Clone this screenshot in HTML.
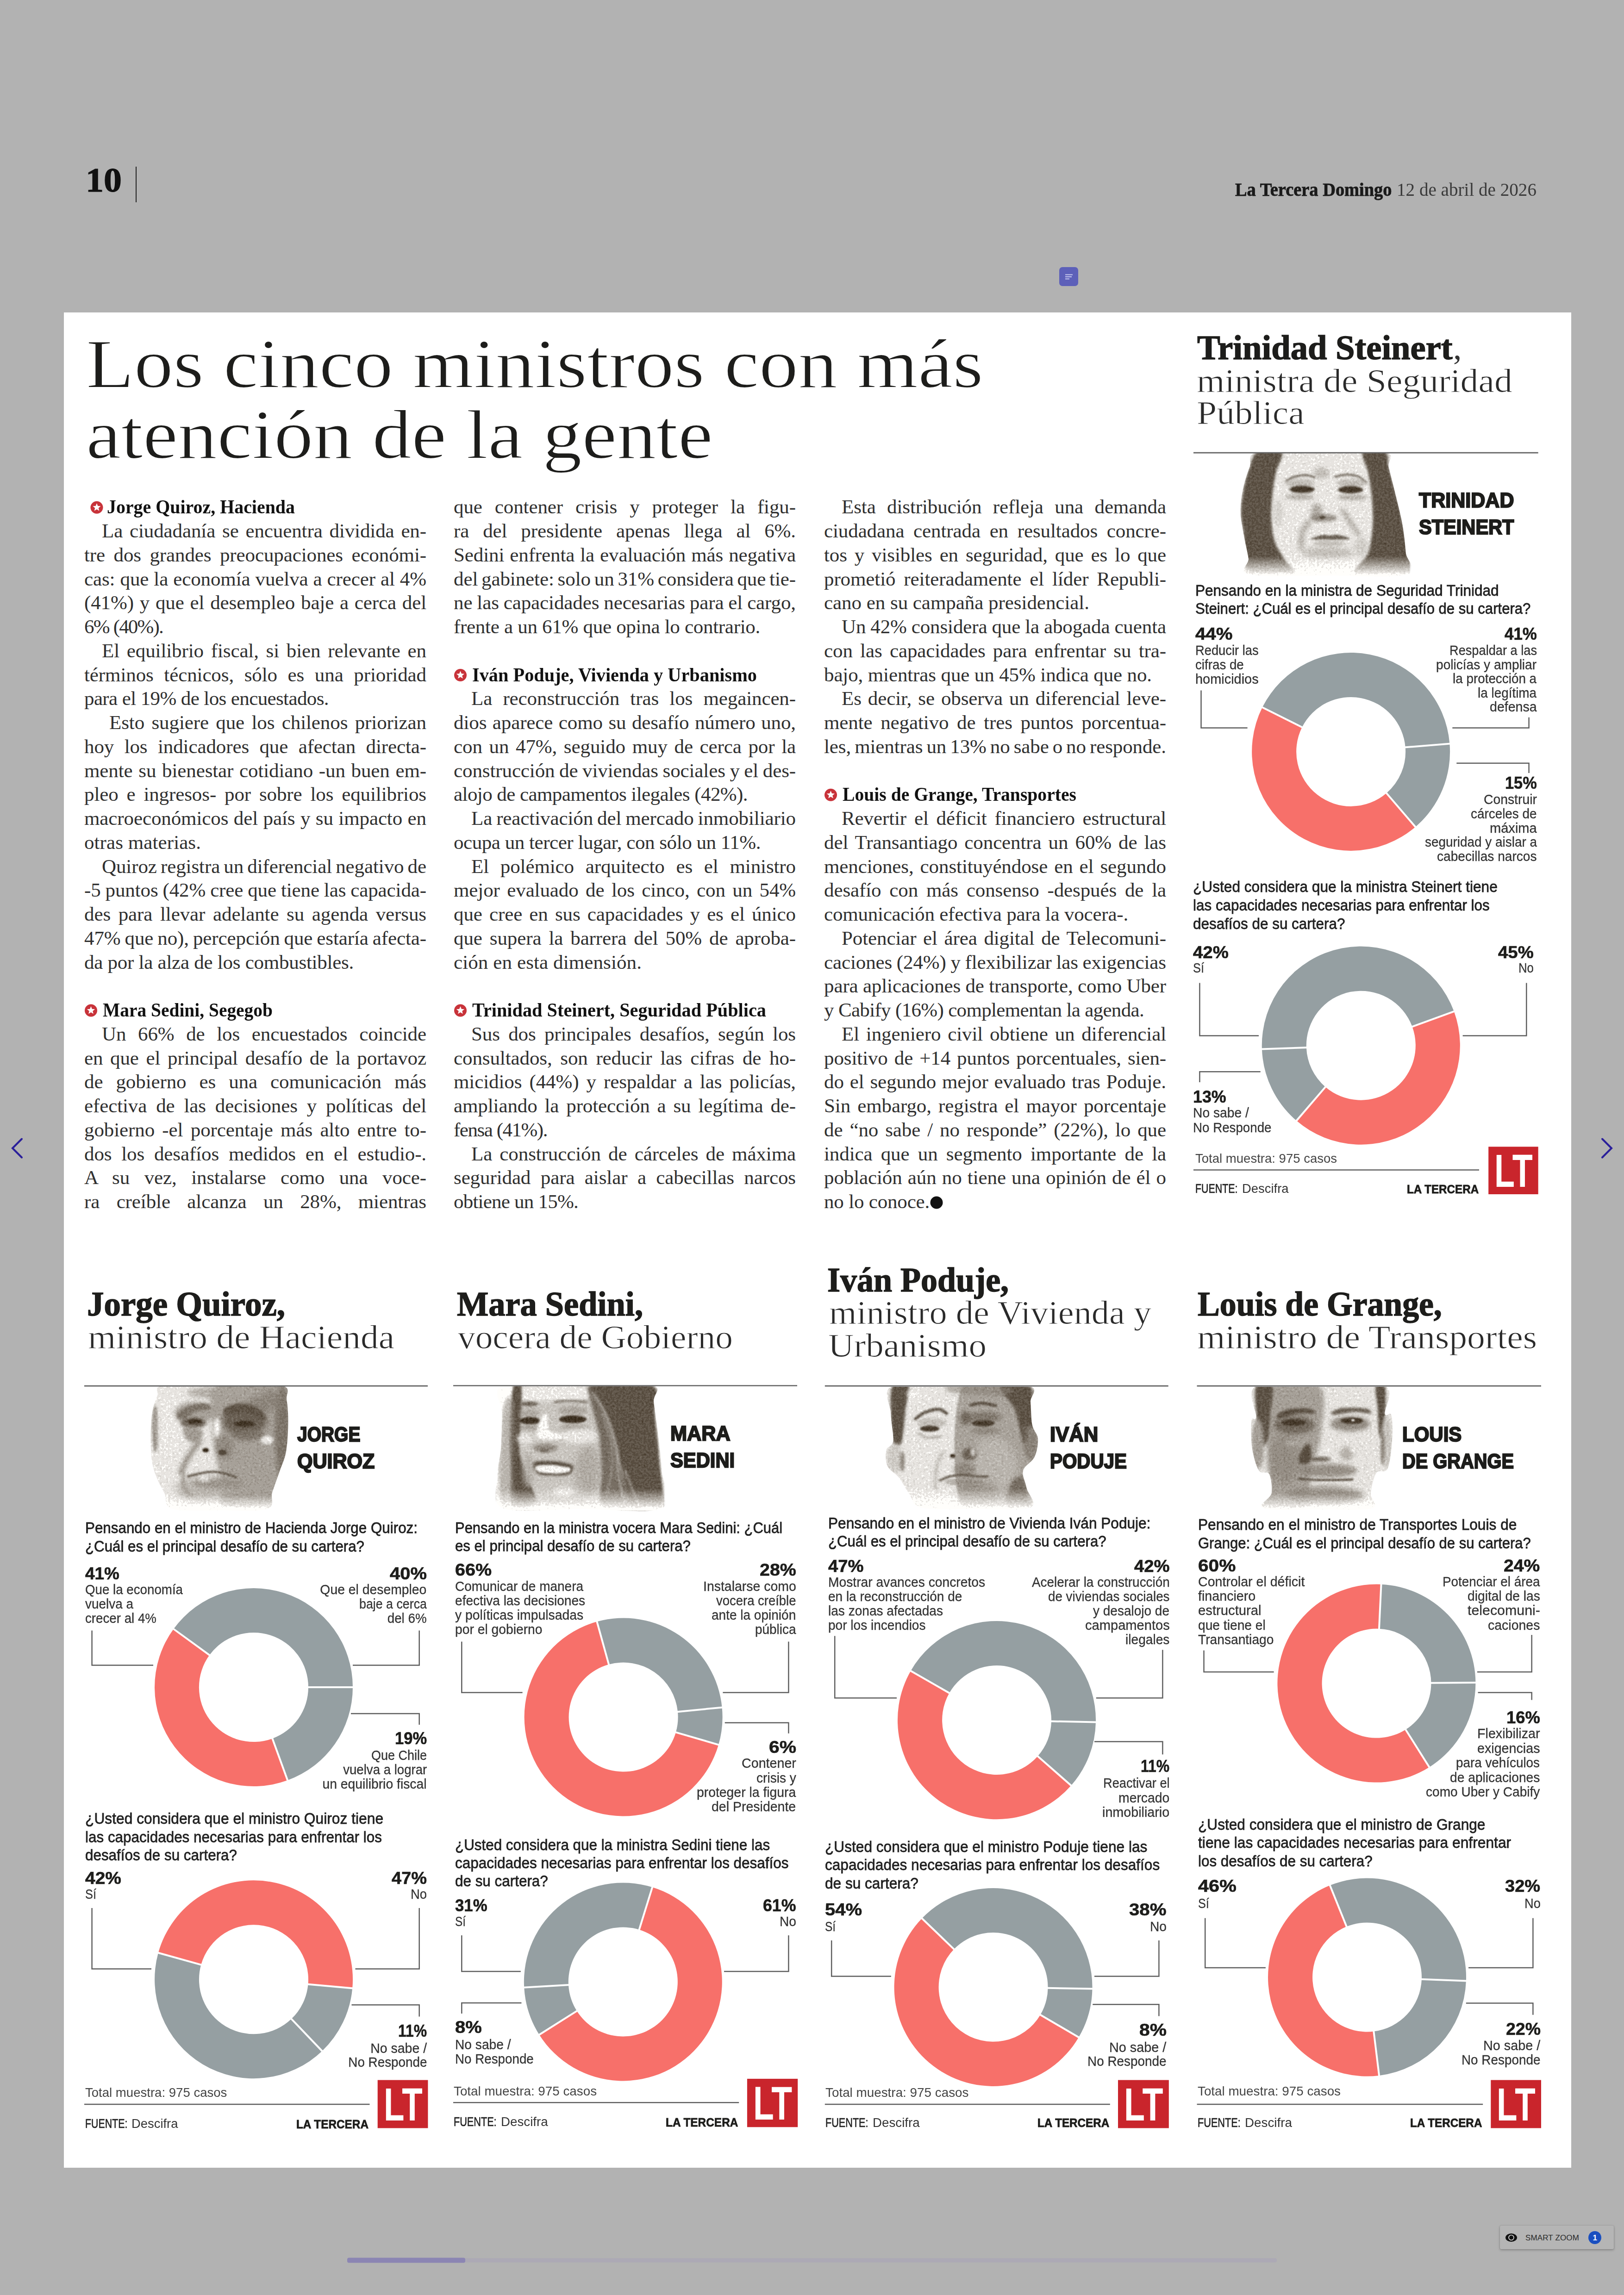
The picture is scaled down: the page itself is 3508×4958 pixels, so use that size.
<!DOCTYPE html>
<html lang="es"><head><meta charset="utf-8"><title>Los cinco ministros con más atención de la gente</title>
<style>
html,body{margin:0;padding:0;}
body{width:3508px;height:4958px;background:#b2b2b2;position:relative;overflow:hidden;}
.t{position:absolute;white-space:pre;font-kerning:normal;}
svg{position:absolute;overflow:visible;}
</style></head><body>
<div style="position:absolute;left:138px;top:675px;width:3256px;height:4008px;background:#ffffff;"></div>
<div style="position:absolute;left:292.8px;top:359.5px;width:2.6px;height:77.5px;background:#222;"></div>
<div style="position:absolute;left:3240px;top:4808px;width:246px;height:51px;background:#b5b5b5;border-radius:3px;box-shadow:0 2px 5px rgba(0,0,0,0.25),0 0 2px rgba(0,0,0,0.2);"></div>
<svg style="left:0;top:0" width="3508" height="4958" viewBox="0 0 3508 4958">
<defs><filter id="b1" x="-50%" y="-50%" width="200%" height="200%"><feGaussianBlur stdDeviation="1"/></filter><filter id="b1_5" x="-50%" y="-50%" width="200%" height="200%"><feGaussianBlur stdDeviation="1.5"/></filter><filter id="b2" x="-50%" y="-50%" width="200%" height="200%"><feGaussianBlur stdDeviation="2"/></filter><filter id="b3" x="-50%" y="-50%" width="200%" height="200%"><feGaussianBlur stdDeviation="3"/></filter><filter id="b4" x="-50%" y="-50%" width="200%" height="200%"><feGaussianBlur stdDeviation="4"/></filter><filter id="b5" x="-50%" y="-50%" width="200%" height="200%"><feGaussianBlur stdDeviation="5"/></filter><filter id="b6" x="-50%" y="-50%" width="200%" height="200%"><feGaussianBlur stdDeviation="6"/></filter><filter id="b8" x="-50%" y="-50%" width="200%" height="200%"><feGaussianBlur stdDeviation="8"/></filter><filter id="b12" x="-50%" y="-50%" width="200%" height="200%"><feGaussianBlur stdDeviation="12"/></filter><filter id="soft" x="-5%" y="-5%" width="110%" height="110%" color-interpolation-filters="sRGB"><feGaussianBlur stdDeviation="1.5" result="b"/><feColorMatrix in="b" type="matrix" values="1 0 0 0 0  1 0 0 0 0  1 0 0 0 0  0 0 0 1 0" result="gr"/><feTurbulence type="fractalNoise" baseFrequency="0.22" numOctaves="3" seed="11" result="n"/><feColorMatrix in="n" type="matrix" values="0.6 0.6 0.6 0 -0.4  0.6 0.6 0.6 0 -0.4  0.6 0.6 0.6 0 -0.4  0 0 0 0 1" result="g"/><feComposite in="gr" in2="g" operator="arithmetic" k1="0" k2="1" k3="0.2" k4="-0.1" result="m"/><feComponentTransfer in="m" result="p"><feFuncR type="discrete" tableValues="0.031 0.094 0.156 0.219 0.281 0.344 0.406 0.469 0.531 0.594 0.656 0.719 0.781 0.844 0.906 1"/><feFuncG type="discrete" tableValues="0.031 0.094 0.156 0.219 0.281 0.344 0.406 0.469 0.531 0.594 0.656 0.719 0.781 0.844 0.906 1"/><feFuncB type="discrete" tableValues="0.031 0.094 0.156 0.219 0.281 0.344 0.406 0.469 0.531 0.594 0.656 0.719 0.781 0.844 0.906 1"/></feComponentTransfer><feColorMatrix in="p" type="matrix" values="1 0 0 0 0  1.0556 0 0 0 -0.0606  1.12 0 0 0 -0.1345  0 0 0 1 0" result="t"/><feComposite in="t" in2="b" operator="in"/></filter></defs><defs><clipPath id="p1c"><path d="M352.1,2993.3 C329.2,2997.2 343.8,3005.9 339.9,3015.5 C336.0,3025.1 331.2,3036.2 328.8,3050.9 C326.4,3065.7 325.6,3086.4 325.5,3104.1 C325.4,3121.9 326.2,3142.6 328.4,3157.3 C330.6,3172.1 334.3,3181.4 338.8,3192.8 C343.3,3204.3 349.7,3214.9 355.4,3226.1 C361.1,3237.2 352.8,3253.7 373.2,3259.8 C393.5,3265.8 443.3,3262.6 477.3,3262.6 C511.3,3262.6 558.6,3266.2 577.1,3259.8 C595.6,3253.3 583.7,3237.2 588.2,3223.8 C592.6,3210.5 598.7,3194.3 603.7,3179.5 C608.7,3164.7 615.0,3152.9 618.1,3135.2 C621.2,3117.4 622.4,3091.6 622.5,3073.1 C622.7,3054.6 621.6,3037.6 619.2,3024.3 C616.8,3011.0 631.8,2998.7 608.1,2993.3 C584.5,2987.9 520.0,2992.2 477.3,2992.2 C434.7,2992.2 375.0,2989.4 352.1,2993.3Z"/></clipPath><linearGradient id="p1g" gradientUnits="userSpaceOnUse" x1="325" y1="0" x2="623" y2="0"><stop offset="0" stop-color="#e9e6e2"/><stop offset="0.45" stop-color="#e6e3df"/><stop offset="1" stop-color="#c9c4be"/></linearGradient><linearGradient id="p1f" gradientUnits="userSpaceOnUse" x1="0" y1="3230" x2="0" y2="3260"><stop offset="0" stop-color="#fff" stop-opacity="0"/><stop offset="1" stop-color="#fff" stop-opacity="1"/></linearGradient></defs>
<g clip-path="url(#p1c)" filter="url(#soft)">
<rect x="320" y="2987" width="307" height="280" fill="url(#p1g)"/>
<path d="M468.5,2993.3 C495.8,2977.0 597.8,2948.6 623.6,2993.3 C649.5,3038.0 645.8,3216.8 623.6,3261.5 C601.5,3306.2 515.8,3275.2 490.6,3261.5 C465.5,3247.9 478.1,3208.0 472.9,3179.5 C467.7,3151.1 460.3,3121.9 459.6,3090.8 C458.9,3059.8 441.1,3009.6 468.5,2993.3Z" fill="#a39c95" opacity="0.95" filter="url(#b5)"/>
<ellipse cx="437.4" cy="3215.0" rx="57.6" ry="28.8" fill="#b5afa8" opacity="0.85" filter="url(#b8)"/>
<ellipse cx="610.3" cy="3095.3" rx="16.6" ry="102.0" fill="#7a736c" opacity="0.9" filter="url(#b4)"/>
<ellipse cx="577.1" cy="3026.6" rx="42.1" ry="22.2" fill="#857e77" opacity="0.7" filter="url(#b6)"/>
<ellipse cx="488.4" cy="3008.8" rx="84.2" ry="13.3" fill="#a8a29b" opacity="0.8" filter="url(#b4)"/>
<ellipse cx="335.5" cy="3086.4" rx="7.1" ry="51.0" fill="#8f8983" opacity="0.9" filter="url(#b2)"/>
<ellipse cx="366.5" cy="3079.8" rx="24.4" ry="66.5" fill="#ebe8e4" opacity="0.9" filter="url(#b8)"/>
<ellipse cx="419.7" cy="3053.2" rx="42.1" ry="24.4" fill="#a39c95" opacity="0.95" filter="url(#b5)"/>
<path d="M382.0,3055.4 C384.2,3050.6 396.1,3042.1 406.4,3038.1 C416.7,3034.1 436.0,3030.4 444.1,3031.4 C452.2,3032.5 458.5,3041.3 455.2,3044.3 C451.8,3047.2 434.5,3045.5 424.1,3049.2 C413.8,3052.9 400.1,3065.4 393.1,3066.5 C386.1,3067.5 379.8,3060.1 382.0,3055.4Z" fill="#7d766f" opacity="1" filter="url(#b2)"/>
<ellipse cx="417.5" cy="3074.2" rx="27.7" ry="11.5" fill="#6a635c" opacity="0.95" filter="url(#b3)"/>
<ellipse cx="420.8" cy="3070.9" rx="16.6" ry="5.3" fill="#3f3934" opacity="1" filter="url(#b1)"/>
<path d="M397.5,3084.2 C403.1,3080.9 432.6,3085.7 437.4,3090.8 C442.2,3096.0 431.9,3111.9 426.4,3115.2 C420.8,3118.5 409.0,3116.0 404.2,3110.8 C399.4,3105.6 392.0,3087.5 397.5,3084.2Z" fill="#9d968f" opacity="0.95" filter="url(#b3)"/>
<ellipse cx="528.3" cy="3068.7" rx="47.7" ry="33.3" fill="#6a635c" opacity="0.97" filter="url(#b6)"/>
<path d="M486.2,3042.1 C491.7,3038.0 509.5,3031.7 521.7,3032.1 C533.9,3032.5 550.9,3038.6 559.4,3044.3 C567.9,3050.0 577.1,3065.0 572.7,3066.5 C568.2,3067.9 546.8,3054.8 532.8,3053.2 C518.7,3051.5 496.2,3058.3 488.4,3056.5 C480.7,3054.6 480.7,3046.1 486.2,3042.1Z" fill="#5e5750" opacity="1" filter="url(#b2)"/>
<ellipse cx="528.3" cy="3075.8" rx="22.2" ry="6.7" fill="#3f3934" opacity="1" filter="url(#b1)"/>
<ellipse cx="535.0" cy="3099.7" rx="35.5" ry="12.2" fill="#7a736c" opacity="0.85" filter="url(#b4)"/>
<ellipse cx="577.1" cy="3110.8" rx="13.7" ry="9.3" fill="#e9e6e2" opacity="1" filter="url(#b2)"/>
<ellipse cx="468.5" cy="3084.2" rx="7.1" ry="21.1" fill="#f4f2ef" opacity="1" filter="url(#b3)"/>
<ellipse cx="485.1" cy="3126.3" rx="18.8" ry="25.5" fill="#8f8881" opacity="0.92" filter="url(#b4)"/>
<ellipse cx="444.1" cy="3133.0" rx="7.1" ry="4.7" fill="#2f2a26" opacity="1" filter="url(#b1)"/>
<ellipse cx="480.7" cy="3137.8" rx="9.3" ry="5.8" fill="#4f4943" opacity="1" filter="url(#b1)"/>
<path d="M430.8,3113.0 C426.7,3118.9 413.1,3137.4 406.4,3148.5 C399.8,3159.6 393.5,3174.3 390.9,3179.5" fill="none" stroke="#948d86" stroke-width="12.2" stroke-linecap="round" opacity="0.9" filter="url(#b4)"/>
<path d="M406.4,3189.5 C410.8,3188.4 424.1,3184.5 433.0,3182.8 C441.9,3181.2 450.4,3179.3 459.6,3179.5 C468.8,3179.7 479.9,3181.9 488.4,3183.9 C496.9,3186.0 506.9,3190.4 510.6,3191.7" fill="none" stroke="#5e5750" stroke-width="4.4" stroke-linecap="round" opacity="1" filter="url(#b1)"/>
<ellipse cx="470.7" cy="3205.0" rx="53.2" ry="11.1" fill="#97908a" opacity="0.85" filter="url(#b4)"/>
<path d="M395.3,3179.5 C395.7,3185.0 395.0,3204.3 397.5,3212.8 C400.1,3221.3 408.6,3227.5 410.8,3230.5" fill="none" stroke="#9d968f" stroke-width="7.5" stroke-linecap="round" opacity="0.85" filter="url(#b3)"/>
<ellipse cx="441.9" cy="3193.9" rx="12.2" ry="7.1" fill="#e4e1dc" opacity="0.95" filter="url(#b3)"/>
<rect x="320" y="3230" width="307" height="38" fill="url(#p1f)"/>
</g>
<rect x="313" y="2972.7" width="321" height="22" fill="#fff"/><defs><clipPath id="p2c"><path d="M1087.1,2992.8 C1058.4,3003.1 1085.5,3031.4 1084.6,3053.9 C1083.8,3076.4 1083.8,3105.2 1082.2,3127.8 C1080.5,3150.4 1074.0,3167.6 1074.8,3189.4 C1075.6,3211.1 1056.7,3246.6 1087.1,3258.3 C1117.5,3270.0 1200.0,3259.6 1257.0,3259.6 C1314.1,3259.6 1400.7,3272.1 1429.5,3258.3 C1458.2,3244.6 1430.7,3202.9 1429.5,3177.0 C1428.2,3151.2 1424.9,3127.8 1422.1,3103.2 C1419.2,3078.5 1414.5,3047.7 1412.2,3029.3 C1410.0,3010.9 1434.4,2999.0 1408.5,2992.8 C1382.7,2986.7 1310.6,2992.3 1257.0,2992.3 C1203.5,2992.3 1115.8,2982.5 1087.1,2992.8Z"/></clipPath><linearGradient id="p2f" gradientUnits="userSpaceOnUse" x1="0" y1="3216" x2="0" y2="3260"><stop offset="0" stop-color="#fff" stop-opacity="0"/><stop offset="1" stop-color="#fff" stop-opacity="1"/></linearGradient></defs>
<g clip-path="url(#p2c)" filter="url(#soft)">
<rect x="1070" y="2987" width="365" height="277" fill="#ffffff"/>
<path d="M1122.8,2993.5 C1148.7,2975.3 1241.2,2979.4 1271.8,2993.5 C1302.4,3007.7 1299.7,3047.9 1306.3,3078.5 C1312.9,3109.1 1315.3,3147.1 1311.2,3177.0 C1307.1,3207.0 1307.1,3244.8 1281.7,3258.3 C1256.2,3271.9 1184.0,3271.9 1158.5,3258.3 C1133.1,3244.8 1135.9,3202.9 1129.0,3177.0 C1122.0,3151.2 1117.7,3133.7 1116.7,3103.2 C1115.6,3072.6 1096.9,3011.8 1122.8,2993.5Z" fill="#cac4be" opacity="1" filter="url(#b2)"/>
<path d="M1126.5,2994.8 C1149.9,2989.9 1243.1,2990.3 1266.9,2994.8 C1290.7,2999.3 1280.9,3016.5 1269.4,3021.9 C1257.9,3027.2 1221.7,3026.4 1197.9,3026.8 C1174.1,3027.2 1138.4,3029.7 1126.5,3024.3 C1114.6,3019.0 1103.1,2999.7 1126.5,2994.8Z" fill="#ebe7e3" opacity="1" filter="url(#b3)"/>
<path d="M1276.7,2992.8 C1294.6,2984.7 1385.5,2982.6 1408.5,2992.8 C1431.5,3003.0 1412.0,3027.3 1414.7,3053.9 C1417.3,3080.5 1422.1,3118.1 1424.5,3152.4 C1427.0,3186.7 1438.9,3241.7 1429.5,3259.6 C1420.0,3277.4 1382.2,3273.3 1367.9,3259.6 C1353.5,3245.8 1350.2,3203.1 1343.3,3177.0 C1336.3,3151.0 1333.0,3125.7 1326.0,3103.2 C1319.0,3080.6 1309.6,3060.0 1301.4,3041.6 C1293.2,3023.2 1258.9,3000.9 1276.7,2992.8Z" fill="#5e5448" opacity="1" filter="url(#b2)"/>
<path d="M1269.4,2994.8 C1272.2,2991.9 1287.0,3007.1 1296.5,3024.3 C1305.9,3041.6 1318.2,3072.8 1326.0,3098.2 C1333.8,3123.7 1336.3,3150.4 1343.3,3177.0 C1350.2,3203.7 1374.9,3244.8 1367.9,3258.3 C1360.9,3271.9 1312.9,3271.9 1301.4,3258.3 C1289.9,3244.8 1300.1,3202.9 1298.9,3177.0 C1297.7,3151.2 1297.3,3125.7 1294.0,3103.2 C1290.7,3080.6 1283.3,3059.6 1279.2,3041.6 C1275.1,3023.5 1266.5,2997.7 1269.4,2994.8Z" fill="#71675d" opacity="0.95" filter="url(#b3)"/>
<path d="M1281.7,3009.6 C1286.6,3018.2 1303.0,3041.6 1311.2,3061.3 C1319.4,3081.0 1326.8,3106.4 1330.9,3127.8 C1335.0,3149.1 1332.6,3169.7 1335.9,3189.4 C1339.1,3209.1 1348.2,3236.6 1350.6,3246.0" fill="none" stroke="#b5ada5" stroke-width="4.4" stroke-linecap="round" opacity="0.8" filter="url(#b2)"/>
<path d="M1301.4,3053.9 C1304.7,3064.6 1317.8,3097.4 1321.1,3117.9 C1324.4,3138.5 1322.7,3159.0 1321.1,3177.0 C1319.4,3195.1 1312.9,3218.1 1311.2,3226.3" fill="none" stroke="#a89f96" stroke-width="3.9" stroke-linecap="round" opacity="0.7" filter="url(#b2)"/>
<path d="M1350.6,3177.0 C1353.1,3183.6 1360.5,3204.1 1365.4,3216.5 C1370.3,3228.8 1377.7,3245.2 1380.2,3250.9" fill="none" stroke="#c4bdb5" stroke-width="3.9" stroke-linecap="round" opacity="0.7" filter="url(#b2)"/>
<path d="M1109.3,2992.8 C1113.5,2978.5 1123.5,2978.5 1126.0,2992.8 C1128.6,3007.1 1125.1,3054.0 1124.5,3078.5 C1124.0,3103.1 1119.6,3119.6 1122.8,3140.1 C1126.0,3160.6 1137.8,3183.6 1143.7,3201.7 C1149.7,3219.7 1164.7,3239.9 1158.5,3248.5 C1152.4,3257.1 1116.2,3265.3 1106.8,3253.4 C1097.4,3241.5 1102.9,3206.2 1101.9,3177.0 C1100.8,3147.9 1099.4,3109.2 1100.6,3078.5 C1101.9,3047.8 1105.0,3007.1 1109.3,2992.8Z" fill="#5e5448" opacity="1" filter="url(#b2)"/>
<path d="M1087.1,3041.6 C1092.0,3016.9 1103.7,3006.7 1106.8,3029.3 C1109.9,3051.8 1105.2,3140.1 1105.6,3177.0 C1106.0,3214.0 1113.2,3238.6 1109.3,3250.9 C1105.4,3263.3 1087.5,3263.3 1082.2,3250.9 C1076.8,3238.6 1076.4,3211.9 1077.2,3177.0 C1078.1,3142.2 1082.2,3066.2 1087.1,3041.6Z" fill="#a49c94" opacity="0.75" filter="url(#b4)"/>
<ellipse cx="1143.7" cy="3033.0" rx="18.5" ry="4.9" fill="#6a625a" opacity="1" filter="url(#b2)"/>
<ellipse cx="1143.7" cy="3053.9" rx="22.2" ry="8.6" fill="#a59e97" opacity="0.8" filter="url(#b3)"/>
<ellipse cx="1145.0" cy="3069.2" rx="22.2" ry="7.9" fill="#3f3934" opacity="1" filter="url(#b1)"/>
<ellipse cx="1143.7" cy="3083.4" rx="19.7" ry="6.2" fill="#9d968e" opacity="0.8" filter="url(#b3)"/>
<path d="M1197.9,3029.3 C1203.7,3028.6 1220.9,3025.6 1232.4,3025.6 C1243.9,3025.6 1261.1,3028.6 1266.9,3029.3" fill="none" stroke="#7b746c" stroke-width="5.4" stroke-linecap="round" opacity="1" filter="url(#b2)"/>
<ellipse cx="1237.3" cy="3047.7" rx="32.0" ry="9.9" fill="#a59e97" opacity="0.8" filter="url(#b3)"/>
<ellipse cx="1237.3" cy="3066.2" rx="29.6" ry="8.4" fill="#3f3934" opacity="1" filter="url(#b1)"/>
<ellipse cx="1239.8" cy="3083.4" rx="29.6" ry="6.2" fill="#a39c95" opacity="0.8" filter="url(#b3)"/>
<path d="M1170.8,3058.8 C1174.9,3052.2 1180.3,3053.5 1183.2,3058.8 C1186.0,3064.2 1179.9,3083.9 1188.1,3090.8 C1196.3,3097.8 1230.8,3097.4 1232.4,3100.7 C1234.1,3104.0 1209.4,3109.3 1197.9,3110.5 C1186.4,3111.8 1170.0,3110.1 1163.4,3108.1 C1156.9,3106.0 1157.3,3106.4 1158.5,3098.2 C1159.8,3090.0 1166.7,3065.4 1170.8,3058.8Z" fill="#f3f1ee" opacity="1" filter="url(#b2)"/>
<ellipse cx="1252.1" cy="3103.2" rx="39.4" ry="16.0" fill="#e8e5e1" opacity="1" filter="url(#b4)"/>
<ellipse cx="1133.9" cy="3108.1" rx="17.2" ry="12.3" fill="#e6e3df" opacity="1" filter="url(#b4)"/>
<ellipse cx="1178.2" cy="3127.8" rx="27.1" ry="8.6" fill="#8b847d" opacity="0.9" filter="url(#b3)"/>
<ellipse cx="1175.8" cy="3133.9" rx="11.1" ry="3.7" fill="#6e6760" opacity="1" filter="url(#b2)"/>
<path d="M1149.9,3161.0 C1152.4,3156.3 1167.8,3156.5 1178.2,3156.1 C1188.7,3155.7 1202.7,3156.7 1212.7,3158.6 C1222.8,3160.4 1235.7,3162.9 1238.6,3167.2 C1241.4,3171.5 1236.7,3180.7 1230.0,3184.4 C1223.2,3188.1 1209.0,3189.4 1197.9,3189.4 C1186.8,3189.4 1171.5,3189.2 1163.4,3184.4 C1155.4,3179.7 1147.4,3165.8 1149.9,3161.0Z" fill="#5b544d" opacity="1" filter="url(#b2)"/>
<path d="M1158.5,3167.2 C1163.4,3164.7 1183.2,3164.5 1193.0,3164.7 C1202.9,3164.9 1211.3,3167.4 1217.6,3168.4 C1224.0,3169.4 1229.5,3169.0 1231.2,3170.9 C1232.8,3172.8 1233.0,3177.9 1227.5,3180.0 C1221.9,3182.1 1208.6,3183.3 1197.9,3183.2 C1187.3,3183.1 1170.0,3182.2 1163.4,3179.5 C1156.9,3176.8 1153.6,3169.7 1158.5,3167.2Z" fill="#f1efec" opacity="1" filter="url(#b1)"/>
<ellipse cx="1193.0" cy="3195.5" rx="32.0" ry="7.4" fill="#c9c3bd" opacity="0.9" filter="url(#b3)"/>
<ellipse cx="1269.4" cy="3177.0" rx="27.1" ry="54.2" fill="#aaa39c" opacity="0.8" filter="url(#b8)"/>
<ellipse cx="1141.3" cy="3177.0" rx="12.3" ry="36.9" fill="#b3ada6" opacity="0.8" filter="url(#b4)"/>
<ellipse cx="1217.6" cy="3223.8" rx="22.2" ry="11.1" fill="#efece9" opacity="0.9" filter="url(#b4)"/>
<ellipse cx="1207.8" cy="3246.0" rx="61.6" ry="12.3" fill="#b0a9a2" opacity="0.7" filter="url(#b6)"/>
<rect x="1070" y="3216" width="365" height="49" fill="url(#p2f)"/>
</g>
<rect x="1063" y="2972.8" width="379" height="22" fill="#fff"/><defs><clipPath id="p3c"><path d="M1928.0,2994.3 C1902.6,3004.3 1924.1,3034.1 1924.3,3053.9 C1924.5,3073.7 1930.9,3099.9 1929.3,3113.0 C1927.6,3126.1 1916.5,3123.7 1914.5,3132.7 C1912.4,3141.7 1912.4,3157.3 1916.9,3167.2 C1921.5,3177.0 1933.8,3182.0 1941.6,3191.8 C1949.4,3201.7 1955.5,3215.4 1963.7,3226.3 C1972.0,3237.2 1967.8,3251.6 1990.8,3257.1 C2013.8,3262.6 2062.7,3259.6 2101.7,3259.6 C2140.7,3259.6 2205.5,3264.7 2224.8,3257.1 C2244.1,3249.5 2219.9,3227.3 2217.4,3214.0 C2215.0,3200.6 2207.2,3188.1 2210.0,3177.0 C2212.9,3166.0 2229.3,3159.0 2234.7,3147.5 C2240.0,3136.0 2242.9,3119.6 2242.1,3108.1 C2241.2,3096.6 2232.4,3091.7 2229.8,3078.5 C2227.1,3065.4 2227.3,3043.3 2226.1,3029.3 C2224.8,3015.2 2247.2,3000.2 2222.4,2994.3 C2197.5,2988.3 2126.1,2993.5 2077.0,2993.5 C2028.0,2993.5 1953.5,2984.2 1928.0,2994.3Z"/></clipPath><linearGradient id="p3f" gradientUnits="userSpaceOnUse" x1="0" y1="3216" x2="0" y2="3260"><stop offset="0" stop-color="#fff" stop-opacity="0"/><stop offset="1" stop-color="#fff" stop-opacity="1"/></linearGradient></defs>
<g clip-path="url(#p3c)" filter="url(#soft)">
<rect x="1909" y="2989" width="338" height="276" fill="#e7e4e0"/>
<path d="M2079.5,2994.3 C2103.7,2950.1 2197.3,2976.1 2224.8,2994.3 C2252.3,3012.4 2244.5,3059.1 2244.5,3103.2 C2244.5,3147.2 2252.3,3232.3 2224.8,3258.3 C2197.3,3284.4 2103.7,3303.6 2079.5,3259.6 C2055.3,3215.6 2055.3,3038.5 2079.5,2994.3Z" fill="#a9a39c" opacity="1" filter="url(#b1)"/>
<ellipse cx="2146.0" cy="3167.2" rx="49.3" ry="61.6" fill="#c2bcb5" opacity="0.7" filter="url(#b8)"/>
<ellipse cx="2114.0" cy="3226.3" rx="44.3" ry="29.6" fill="#8f8881" opacity="0.6" filter="url(#b8)"/>
<path d="M1928.0,2994.3 C1934.4,2984.4 1957.8,2986.4 1962.5,2994.3 C1967.2,3002.2 1958.2,3025.5 1956.4,3041.6 C1954.5,3057.7 1953.3,3077.7 1951.4,3090.8 C1949.6,3104.0 1949.0,3116.3 1945.3,3120.4 C1941.6,3124.5 1932.8,3126.6 1929.3,3115.5 C1925.8,3104.4 1924.5,3074.1 1924.3,3053.9 C1924.1,3033.7 1921.7,3004.2 1928.0,2994.3Z" fill="#5e5448" opacity="1" filter="url(#b2)"/>
<path d="M2160.8,2994.3 C2165.9,2986.0 2210.9,2986.4 2222.4,2994.3 C2233.9,3002.2 2228.3,3024.7 2229.8,3041.6 C2231.2,3058.5 2234.7,3086.3 2231.0,3095.8 C2227.3,3105.2 2214.2,3106.8 2207.6,3098.2 C2201.0,3089.6 2199.4,3061.4 2191.6,3044.0 C2183.8,3026.7 2155.7,3002.6 2160.8,2994.3Z" fill="#5e5448" opacity="1" filter="url(#b2)"/>
<path d="M2052.4,2994.8 C2072.5,2992.7 2152.6,2991.5 2173.1,2994.8 C2193.6,2998.1 2187.5,3011.6 2175.6,3014.5 C2163.7,3017.4 2122.2,3013.3 2101.7,3012.0 C2081.1,3010.8 2060.6,3010.0 2052.4,3007.1 C2044.2,3004.2 2032.3,2996.8 2052.4,2994.8Z" fill="#857d75" opacity="0.6" filter="url(#b4)"/>
<ellipse cx="1933.0" cy="3150.0" rx="17.2" ry="32.0" fill="#cfcac5" opacity="1" filter="url(#b3)"/>
<ellipse cx="1949.0" cy="3157.3" rx="4.9" ry="22.2" fill="#8e8780" opacity="1" filter="url(#b2)"/>
<ellipse cx="2226.1" cy="3117.9" rx="16.0" ry="36.9" fill="#8b847d" opacity="1" filter="url(#b3)"/>
<ellipse cx="2212.5" cy="3098.2" rx="7.4" ry="19.7" fill="#6a635c" opacity="1" filter="url(#b3)"/>
<path d="M1977.3,3065.0 C1980.8,3062.7 1989.8,3054.8 1998.2,3051.4 C2006.6,3048.0 2020.0,3044.1 2027.8,3044.5 C2035.6,3044.9 2042.2,3052.3 2045.0,3053.9" fill="none" stroke="#5a534c" stroke-width="6.4" stroke-linecap="round" opacity="1" filter="url(#b1_5)"/>
<ellipse cx="2013.0" cy="3073.6" rx="32.0" ry="9.9" fill="#b8b2ab" opacity="0.8" filter="url(#b3)"/>
<ellipse cx="2008.1" cy="3086.4" rx="20.9" ry="6.4" fill="#4a443e" opacity="1" filter="url(#b1)"/>
<path d="M1983.4,3095.8 C1986.7,3097.4 1994.9,3104.4 2003.2,3105.6 C2011.4,3106.8 2027.8,3103.6 2032.7,3103.2" fill="none" stroke="#8a837c" stroke-width="3.4" stroke-linecap="round" opacity="0.8" filter="url(#b2)"/>
<path d="M2096.7,3035.4 C2100.9,3034.7 2112.3,3031.0 2121.4,3031.2 C2130.4,3031.4 2146.0,3035.7 2150.9,3036.7" fill="none" stroke="#5a534c" stroke-width="6.4" stroke-linecap="round" opacity="1" filter="url(#b1_5)"/>
<ellipse cx="2086.9" cy="3063.7" rx="12.3" ry="14.8" fill="#6a635c" opacity="0.9" filter="url(#b4)"/>
<ellipse cx="2126.3" cy="3061.3" rx="36.9" ry="11.1" fill="#7d766f" opacity="0.9" filter="url(#b3)"/>
<ellipse cx="2123.8" cy="3074.8" rx="24.6" ry="6.9" fill="#4a443e" opacity="1" filter="url(#b1)"/>
<ellipse cx="2128.8" cy="3090.8" rx="32.0" ry="7.4" fill="#8a837c" opacity="0.8" filter="url(#b3)"/>
<ellipse cx="2057.8" cy="3145.5" rx="5.9" ry="4.2" fill="#38332e" opacity="1" filter="url(#b1)"/>
<ellipse cx="2094.3" cy="3141.3" rx="16.0" ry="13.5" fill="#6a635c" opacity="1" filter="url(#b3)"/>
<ellipse cx="2101.7" cy="3137.6" rx="5.4" ry="8.6" fill="#cfc9c3" opacity="1" filter="url(#b2)"/>
<path d="M2037.6,3137.6 C2035.6,3141.7 2028.2,3151.6 2025.3,3162.3 C2022.4,3172.9 2021.0,3192.6 2020.4,3201.7 C2019.8,3210.7 2021.4,3214.0 2021.6,3216.5" fill="none" stroke="#a09990" stroke-width="4.9" stroke-linecap="round" opacity="0.8" filter="url(#b3)"/>
<ellipse cx="2084.4" cy="3174.6" rx="24.6" ry="14.8" fill="#857e77" opacity="0.7" filter="url(#b5)"/>
<path d="M2030.2,3198.0 C2033.9,3196.5 2043.8,3191.3 2052.4,3189.4 C2061.0,3187.4 2072.1,3186.4 2082.0,3186.4 C2091.8,3186.4 2102.9,3188.8 2111.5,3189.4 C2120.1,3189.9 2130.0,3189.8 2133.7,3189.9" fill="none" stroke="#5e5750" stroke-width="4.4" stroke-linecap="round" opacity="1" filter="url(#b1)"/>
<ellipse cx="2082.0" cy="3201.7" rx="44.3" ry="6.2" fill="#8f8881" opacity="0.7" filter="url(#b3)"/>
<path d="M2185.4,3201.7 C2191.2,3190.6 2204.3,3187.7 2210.0,3191.8 C2215.8,3195.9 2217.4,3215.2 2219.9,3226.3 C2222.4,3237.4 2232.2,3253.0 2224.8,3258.3 C2217.4,3263.7 2182.1,3267.8 2175.6,3258.3 C2169.0,3248.9 2179.7,3212.8 2185.4,3201.7Z" fill="#6e665e" opacity="0.85" filter="url(#b3)"/>
<ellipse cx="1973.6" cy="3012.0" rx="14.8" ry="9.9" fill="#efedea" opacity="1" filter="url(#b4)"/>
<rect x="1909" y="3216" width="338" height="49" fill="url(#p3f)"/>
</g>
<rect x="1902" y="2974.0" width="352" height="22" fill="#fff"/><defs><clipPath id="p4c"><path d="M2713.3,2994.3 C2690.1,3005.6 2714.9,3048.9 2713.3,3061.3 C2711.6,3073.7 2704.8,3057.6 2703.4,3068.7 C2702.0,3079.8 2702.0,3109.7 2704.6,3127.8 C2707.3,3145.8 2713.3,3167.6 2719.4,3177.0 C2725.6,3186.5 2737.1,3176.2 2741.6,3184.4 C2746.1,3192.6 2748.6,3214.0 2746.5,3226.3 C2744.4,3238.6 2711.6,3252.6 2729.3,3258.3 C2746.9,3264.1 2813.4,3260.8 2852.4,3260.8 C2891.4,3260.8 2945.2,3264.1 2963.3,3258.3 C2981.3,3252.6 2959.1,3239.0 2960.8,3226.3 C2962.4,3213.6 2966.9,3191.0 2973.1,3182.0 C2979.3,3172.9 2992.0,3185.3 2997.7,3172.1 C3003.5,3159.0 3006.4,3122.4 3007.6,3103.2 C3008.8,3083.9 3007.8,3064.6 3005.1,3056.4 C3002.5,3048.1 2993.8,3064.2 2991.6,3053.9 C2989.3,3043.5 3014.8,3004.3 2991.6,2994.3 C2968.4,2984.2 2898.8,2993.5 2852.4,2993.5 C2806.0,2993.5 2736.4,2983.0 2713.3,2994.3Z"/></clipPath><linearGradient id="p4f" gradientUnits="userSpaceOnUse" x1="0" y1="3226" x2="0" y2="3261"><stop offset="0" stop-color="#fff" stop-opacity="0"/><stop offset="1" stop-color="#fff" stop-opacity="1"/></linearGradient></defs>
<g clip-path="url(#p4c)" filter="url(#soft)">
<rect x="2698" y="2989" width="314" height="277" fill="#e5e2de"/>
<path d="M2736.7,2994.3 C2754.7,2963.8 2830.7,2976.1 2850.0,2994.3 C2869.2,3012.4 2855.3,3072.7 2852.4,3103.2 C2849.5,3133.6 2838.5,3151.0 2832.7,3177.0 C2827.0,3203.1 2835.2,3245.8 2817.9,3259.6 C2800.7,3273.3 2742.0,3273.3 2729.3,3259.6 C2716.5,3245.8 2740.3,3221.3 2741.6,3177.0 C2742.8,3132.8 2718.6,3024.7 2736.7,2994.3Z" fill="#a59e97" opacity="1" filter="url(#b4)"/>
<ellipse cx="2773.6" cy="3152.4" rx="34.5" ry="54.2" fill="#8f8881" opacity="0.75" filter="url(#b8)"/>
<path d="M2713.3,2994.3 C2718.8,2983.1 2742.6,2984.4 2747.7,2994.3 C2752.9,3004.2 2745.7,3034.1 2744.0,3053.9 C2742.4,3073.7 2741.6,3102.3 2737.9,3113.0 C2734.2,3123.7 2725.8,3126.6 2721.9,3117.9 C2718.0,3109.3 2715.9,3081.9 2714.5,3061.3 C2713.0,3040.7 2707.7,3005.5 2713.3,2994.3Z" fill="#5e5448" opacity="1" filter="url(#b2)"/>
<path d="M2971.9,2994.3 C2974.5,2986.4 2988.2,2984.4 2991.6,2994.3 C2995.0,3004.2 2992.7,3035.7 2992.3,3053.9 C2991.9,3072.0 2991.3,3095.8 2989.1,3103.2 C2986.9,3110.5 2981.5,3108.5 2979.3,3098.2 C2977.0,3088.0 2976.8,3058.9 2975.6,3041.6 C2974.3,3024.3 2969.2,3002.2 2971.9,2994.3Z" fill="#5e5448" opacity="1" filter="url(#b2)"/>
<ellipse cx="2716.9" cy="3120.4" rx="13.5" ry="54.2" fill="#a49d96" opacity="1" filter="url(#b3)"/>
<ellipse cx="2995.3" cy="3115.5" rx="11.1" ry="56.7" fill="#c9c4be" opacity="1" filter="url(#b3)"/>
<ellipse cx="2986.7" cy="3127.8" rx="4.4" ry="36.9" fill="#8a837c" opacity="1" filter="url(#b2)"/>
<path d="M2758.8,3056.4 C2762.1,3052.9 2772.0,3046.7 2783.4,3044.5 C2794.9,3042.4 2818.3,3042.0 2827.8,3043.5 C2837.2,3045.1 2844.2,3052.2 2840.1,3053.9 C2836.0,3055.6 2815.9,3052.0 2803.2,3053.9 C2790.4,3055.7 2771.1,3064.6 2763.7,3065.0 C2756.4,3065.4 2755.5,3059.8 2758.8,3056.4Z" fill="#5a534c" opacity="1" filter="url(#b2)"/>
<path d="M2877.0,3050.2 C2880.3,3047.7 2889.4,3042.8 2901.7,3041.6 C2914.0,3040.3 2941.1,3040.8 2950.9,3042.8 C2960.8,3044.9 2964.9,3052.7 2960.8,3053.9 C2956.7,3055.1 2939.4,3049.8 2926.3,3050.2 C2913.2,3050.6 2890.2,3056.4 2882.0,3056.4 C2873.8,3056.4 2873.8,3052.7 2877.0,3050.2Z" fill="#6a635c" opacity="1" filter="url(#b2)"/>
<ellipse cx="2795.8" cy="3078.5" rx="44.3" ry="19.7" fill="#6e6760" opacity="0.9" filter="url(#b4)"/>
<ellipse cx="2794.5" cy="3073.1" rx="25.9" ry="6.9" fill="#443e38" opacity="1" filter="url(#b1)"/>
<ellipse cx="2916.5" cy="3076.1" rx="43.1" ry="16.0" fill="#857e77" opacity="0.85" filter="url(#b4)"/>
<ellipse cx="2920.1" cy="3069.2" rx="24.6" ry="6.9" fill="#443e38" opacity="1" filter="url(#b1)"/>
<ellipse cx="2922.6" cy="3068.2" rx="3.4" ry="2.5" fill="#f5f3f0" opacity="1"/>
<path d="M2825.3,3117.9 C2829.6,3117.1 2832.3,3130.7 2832.7,3137.6 C2833.1,3144.6 2831.9,3155.7 2827.8,3159.8 C2823.7,3163.9 2811.6,3165.1 2808.1,3162.3 C2804.6,3159.4 2804.0,3150.0 2806.8,3142.6 C2809.7,3135.2 2821.0,3118.8 2825.3,3117.9Z" fill="#5a534c" opacity="1" filter="url(#b2)"/>
<ellipse cx="2852.4" cy="3152.4" rx="22.2" ry="5.4" fill="#6a635c" opacity="0.9" filter="url(#b2)"/>
<ellipse cx="2909.1" cy="3140.1" rx="14.8" ry="14.8" fill="#a8a19a" opacity="0.8" filter="url(#b4)"/>
<ellipse cx="2867.2" cy="3131.5" rx="6.2" ry="4.4" fill="#f3f1ee" opacity="1" filter="url(#b2)"/>
<ellipse cx="2922.6" cy="3132.7" rx="6.2" ry="4.4" fill="#f3f1ee" opacity="1" filter="url(#b2)"/>
<ellipse cx="2867.2" cy="3177.0" rx="64.0" ry="14.8" fill="#8f8881" opacity="0.9" filter="url(#b4)"/>
<path d="M2805.6,3194.3 C2811.0,3194.8 2825.7,3196.7 2837.6,3197.2 C2849.5,3197.8 2863.1,3197.9 2877.0,3197.7 C2891.0,3197.6 2914.0,3196.5 2921.4,3196.3" fill="none" stroke="#5e5750" stroke-width="4.9" stroke-linecap="round" opacity="1" filter="url(#b1)"/>
<ellipse cx="2867.2" cy="3210.3" rx="27.1" ry="5.4" fill="#d9d5d0" opacity="1" filter="url(#b2)"/>
<ellipse cx="2862.3" cy="3231.2" rx="83.7" ry="19.7" fill="#8f8881" opacity="0.9" filter="url(#b6)"/>
<ellipse cx="2790.8" cy="3117.9" rx="14.8" ry="7.4" fill="#b0a9a2" opacity="0.8" filter="url(#b3)"/>
<rect x="2698" y="3226" width="314" height="40" fill="url(#p4f)"/>
</g>
<rect x="2691" y="2974.0" width="328" height="22" fill="#fff"/><defs><clipPath id="p5c"><path d="M2716.5,976.7 C2690.6,982.3 2704.6,995.6 2699.3,1009.3 C2693.9,1022.9 2687.8,1042.1 2684.5,1058.5 C2681.2,1074.9 2679.1,1091.4 2679.6,1107.8 C2680.0,1124.2 2684.1,1140.6 2686.9,1157.0 C2689.8,1173.5 2694.7,1192.3 2696.8,1206.3 C2698.9,1220.3 2670.9,1234.6 2699.3,1240.8 C2727.6,1246.9 2810.1,1243.3 2866.7,1243.3 C2923.4,1243.3 3010.8,1249.0 3039.2,1240.8 C3067.5,1232.6 3038.3,1212.1 3036.7,1194.0 C3035.1,1175.9 3033.4,1155.0 3029.3,1132.4 C3025.2,1109.8 3017.0,1079.0 3012.1,1058.5 C3007.1,1038.0 3003.0,1022.9 2999.8,1009.3 C2996.5,995.6 3016.6,982.3 2992.4,976.7 C2968.1,971.2 2900.4,976.0 2854.4,976.0 C2808.5,976.0 2742.4,971.2 2716.5,976.7Z"/></clipPath><linearGradient id="p5f" gradientUnits="userSpaceOnUse" x1="0" y1="1201" x2="0" y2="1243"><stop offset="0" stop-color="#fff" stop-opacity="0"/><stop offset="1" stop-color="#fff" stop-opacity="1"/></linearGradient></defs>
<g clip-path="url(#p5c)" filter="url(#soft)">
<rect x="2675" y="971" width="370" height="277" fill="#e9e6e2"/>
<path d="M2716.5,976.7 C2728.0,971.3 2761.7,969.3 2768.2,976.7 C2774.8,984.2 2759.2,1005.9 2755.9,1021.6 C2752.6,1037.3 2750.2,1054.4 2748.5,1070.8 C2746.9,1087.3 2745.2,1103.7 2746.1,1120.1 C2746.9,1136.5 2748.9,1155.0 2753.4,1169.4 C2758.0,1183.7 2766.6,1194.4 2773.2,1206.3 C2779.7,1218.2 2805.2,1235.0 2792.9,1240.8 C2780.5,1246.5 2716.9,1254.7 2699.3,1240.8 C2681.6,1226.8 2690.0,1179.2 2686.9,1157.0 C2683.9,1134.9 2680.8,1125.0 2680.8,1107.8 C2680.8,1090.5 2683.9,1070.0 2686.9,1053.6 C2690.0,1037.2 2694.3,1022.1 2699.3,1009.3 C2704.2,996.5 2705.0,982.2 2716.5,976.7Z" fill="#5e5448" opacity="1" filter="url(#b2)"/>
<path d="M2944.3,976.7 C2950.5,969.3 2983.1,971.3 2992.4,976.7 C3001.6,982.2 2996.3,995.6 2999.8,1009.3 C3003.2,1022.9 3008.2,1038.0 3013.3,1058.5 C3018.4,1079.0 3026.2,1102.0 3030.5,1132.4 C3034.9,1162.8 3056.2,1222.7 3039.2,1240.8 C3022.1,1258.9 2942.3,1248.6 2928.3,1240.8 C2914.4,1233.0 2949.3,1212.1 2955.4,1194.0 C2961.6,1175.9 2964.0,1152.9 2965.3,1132.4 C2966.5,1111.9 2964.4,1089.3 2962.8,1070.8 C2961.2,1052.4 2958.5,1037.3 2955.4,1021.6 C2952.3,1005.9 2938.2,984.2 2944.3,976.7Z" fill="#5e5448" opacity="1" filter="url(#b2)"/>
<path d="M2778.1,1038.8 C2781.4,1037.3 2790.4,1031.5 2797.8,1029.5 C2805.2,1027.4 2815.4,1026.2 2822.4,1026.5 C2829.4,1026.8 2836.8,1030.6 2839.7,1031.4" fill="none" stroke="#6a635c" stroke-width="3.9" stroke-linecap="round" opacity="1" filter="url(#b1_5)"/>
<path d="M2884.0,1030.2 C2888.1,1029.4 2900.4,1025.5 2908.6,1025.3 C2916.8,1025.1 2926.1,1026.1 2933.3,1029.0 C2940.4,1031.8 2948.6,1040.3 2951.7,1042.5" fill="none" stroke="#6a635c" stroke-width="3.9" stroke-linecap="round" opacity="1" filter="url(#b1_5)"/>
<ellipse cx="2807.6" cy="1043.7" rx="32.0" ry="8.6" fill="#b5aea7" opacity="0.8" filter="url(#b3)"/>
<ellipse cx="2812.6" cy="1057.3" rx="27.1" ry="7.9" fill="#453f39" opacity="1" filter="url(#b1_5)"/>
<ellipse cx="2807.6" cy="1073.3" rx="32.0" ry="6.2" fill="#a8a19a" opacity="0.8" filter="url(#b3)"/>
<ellipse cx="2918.5" cy="1043.7" rx="32.0" ry="8.6" fill="#b5aea7" opacity="0.8" filter="url(#b3)"/>
<ellipse cx="2917.2" cy="1058.0" rx="27.1" ry="7.9" fill="#453f39" opacity="1" filter="url(#b1_5)"/>
<ellipse cx="2920.9" cy="1074.5" rx="32.0" ry="6.2" fill="#a8a19a" opacity="0.8" filter="url(#b3)"/>
<ellipse cx="2854.4" cy="1021.6" rx="17.2" ry="12.3" fill="#b0a9a2" opacity="0.7" filter="url(#b4)"/>
<ellipse cx="2844.6" cy="1107.8" rx="12.3" ry="19.7" fill="#a09990" opacity="0.8" filter="url(#b4)"/>
<ellipse cx="2859.4" cy="1118.9" rx="29.6" ry="7.4" fill="#8a837c" opacity="0.9" filter="url(#b3)"/>
<ellipse cx="2856.9" cy="1117.6" rx="6.2" ry="3.4" fill="#4a443e" opacity="1" filter="url(#b1)"/>
<path d="M2901.2,1102.9 C2903.7,1107.0 2910.7,1119.3 2916.0,1127.5 C2921.3,1135.7 2930.4,1148.0 2933.3,1152.1" fill="none" stroke="#a39c95" stroke-width="9.9" stroke-linecap="round" opacity="0.8" filter="url(#b4)"/>
<path d="M2827.3,1127.5 C2824.9,1131.6 2815.4,1143.1 2812.6,1152.1 C2809.7,1161.1 2810.5,1176.7 2810.1,1181.7" fill="none" stroke="#a8a19a" stroke-width="12.3" stroke-linecap="round" opacity="0.8" filter="url(#b5)"/>
<path d="M2832.3,1164.4 C2829.8,1162.8 2850.3,1157.0 2856.9,1155.8 C2863.5,1154.6 2865.9,1157.0 2871.7,1157.0 C2877.4,1157.0 2884.0,1154.6 2891.4,1155.8 C2898.8,1157.0 2919.3,1162.8 2916.0,1164.4 C2912.7,1166.1 2885.6,1165.7 2871.7,1165.7 C2857.7,1165.7 2834.7,1166.1 2832.3,1164.4Z" fill="#6a635c" opacity="1" filter="url(#b1_5)"/>
<ellipse cx="2871.7" cy="1174.3" rx="34.5" ry="4.9" fill="#b0a9a2" opacity="0.8" filter="url(#b3)"/>
<ellipse cx="2866.7" cy="1194.0" rx="56.7" ry="12.3" fill="#b9b3ac" opacity="0.8" filter="url(#b6)"/>
<ellipse cx="2940.6" cy="1181.7" rx="14.8" ry="22.2" fill="#c4beb8" opacity="0.7" filter="url(#b6)"/>
<ellipse cx="2760.8" cy="1107.8" rx="9.9" ry="29.6" fill="#c9c3bd" opacity="0.6" filter="url(#b4)"/>
<rect x="2675" y="1201" width="370" height="48" fill="url(#p5f)"/>
</g>
<rect x="2668" y="956.5" width="384" height="22" fill="#fff"/>
<circle cx="209" cy="1096.3" r="13.5" fill="#c8333a"/><polygon points="209.0,1087.3 211.4,1093.1 217.6,1093.5 212.8,1097.5 214.3,1103.6 209.0,1100.3 203.7,1103.6 205.2,1097.5 200.4,1093.5 206.6,1093.1" fill="#fff"/>
<circle cx="196.5" cy="2183.05" r="13.5" fill="#c8333a"/><polygon points="196.5,2174.1 198.9,2179.8 205.1,2180.3 200.3,2184.3 201.8,2190.3 196.5,2187.1 191.2,2190.3 192.7,2184.3 187.9,2180.3 194.1,2179.8" fill="#fff"/>
<circle cx="994.5" cy="1458.55" r="13.5" fill="#c8333a"/><polygon points="994.5,1449.5 996.9,1455.3 1003.1,1455.8 998.3,1459.8 999.8,1465.8 994.5,1462.5 989.2,1465.8 990.7,1459.8 985.9,1455.8 992.1,1455.3" fill="#fff"/>
<circle cx="994.5" cy="2183.05" r="13.5" fill="#c8333a"/><polygon points="994.5,2174.1 996.9,2179.8 1003.1,2180.3 998.3,2184.3 999.8,2190.3 994.5,2187.1 989.2,2190.3 990.7,2184.3 985.9,2180.3 992.1,2179.8" fill="#fff"/>
<circle cx="1794.5" cy="1717.3" r="13.5" fill="#c8333a"/><polygon points="1794.5,1708.3 1796.9,1714.1 1803.1,1714.5 1798.3,1718.5 1799.8,1724.6 1794.5,1721.3 1789.2,1724.6 1790.7,1718.5 1785.9,1714.5 1792.1,1714.1" fill="#fff"/>
<circle cx="2023" cy="2598.05" r="13.5" fill="#111"/>
<line x1="182" y1="2994.1" x2="924" y2="2994.1" stroke="#636363" stroke-width="2.7"/>
<polyline points="198.6,3522.5 198.6,3597.5 331.0,3597.5" fill="none" stroke="#5e5e5e" stroke-width="2.5"/>
<polyline points="905.7,3522.5 905.7,3597.5 762.0,3597.5" fill="none" stroke="#5e5e5e" stroke-width="2.5"/>
<polyline points="758.0,3702.0 905.7,3702.0 905.7,3726.0" fill="none" stroke="#5e5e5e" stroke-width="2.5"/>
<path d="M762.0,3645.0 A214,214 0 0 1 621.2,3846.1 L588.4,3755.9 A118,118 0 0 0 666.0,3645.0 Z" fill="#959fa2"/>
<path d="M621.2,3846.1 A214,214 0 0 1 374.9,3519.2 L452.5,3575.6 A118,118 0 0 0 588.4,3755.9 Z" fill="#f7706a"/>
<path d="M374.9,3519.2 A214,214 0 0 1 762.0,3645.0 L666.0,3645.0 A118,118 0 0 0 452.5,3575.6 Z" fill="#959fa2"/>
<line x1="764.0" y1="3645.0" x2="664.0" y2="3645.0" stroke="#fff" stroke-width="4"/>
<line x1="621.9" y1="3848.0" x2="587.7" y2="3754.0" stroke="#fff" stroke-width="4"/>
<line x1="373.3" y1="3518.0" x2="454.2" y2="3576.8" stroke="#fff" stroke-width="4"/>
<polyline points="198.6,4122.0 198.6,4253.6 327.0,4253.6" fill="none" stroke="#5e5e5e" stroke-width="2.5"/>
<polyline points="905.7,4122.0 905.7,4253.6 767.5,4253.6" fill="none" stroke="#5e5e5e" stroke-width="2.5"/>
<polyline points="759.5,4331.3 905.7,4331.3 905.7,4356.4" fill="none" stroke="#5e5e5e" stroke-width="2.5"/>
<path d="M761.2,4295.3 A214,214 0 0 1 695.8,4431.0 L629.5,4361.6 A118,118 0 0 0 665.5,4286.8 Z" fill="#959fa2"/>
<path d="M695.8,4431.0 A214,214 0 0 1 341.9,4218.8 L434.3,4244.6 A118,118 0 0 0 629.5,4361.6 Z" fill="#959fa2"/>
<path d="M341.9,4218.8 A214,214 0 0 1 761.2,4295.3 L665.5,4286.8 A118,118 0 0 0 434.3,4244.6 Z" fill="#f7706a"/>
<line x1="763.1" y1="4295.5" x2="663.5" y2="4286.6" stroke="#fff" stroke-width="4"/>
<line x1="697.2" y1="4432.5" x2="628.1" y2="4360.2" stroke="#fff" stroke-width="4"/>
<line x1="340.0" y1="4218.2" x2="436.3" y2="4245.1" stroke="#fff" stroke-width="4"/>
<line x1="182" y1="4546.0" x2="798.5" y2="4546.0" stroke="#5e5e5e" stroke-width="2.5"/>
<rect x="815.7" y="4493.6" width="108.7" height="103.9" fill="#c9252c"/>
<line x1="979" y1="2993.5" x2="1722" y2="2993.5" stroke="#636363" stroke-width="2.7"/>
<polyline points="997.3,3546.6 997.3,3656.4 1128.6,3656.4" fill="none" stroke="#5e5e5e" stroke-width="2.5"/>
<polyline points="1703.4,3546.6 1703.4,3656.4 1561.4,3656.4" fill="none" stroke="#5e5e5e" stroke-width="2.5"/>
<polyline points="1565.7,3721.8 1703.4,3721.8 1703.4,3744.8" fill="none" stroke="#5e5e5e" stroke-width="2.5"/>
<path d="M1289.4,3503.3 A214,214 0 0 1 1559.6,3688.6 L1464.0,3698.0 A118,118 0 0 0 1315.1,3595.8 Z" fill="#959fa2"/>
<path d="M1559.6,3688.6 A214,214 0 0 1 1552.1,3769.2 L1459.9,3742.4 A118,118 0 0 0 1464.0,3698.0 Z" fill="#959fa2"/>
<path d="M1552.1,3769.2 A214,214 0 1 1 1289.4,3503.3 L1315.1,3595.8 A118,118 0 1 0 1459.9,3742.4 Z" fill="#f7706a"/>
<line x1="1288.9" y1="3501.4" x2="1315.6" y2="3597.7" stroke="#fff" stroke-width="4"/>
<line x1="1561.6" y1="3688.4" x2="1462.0" y2="3698.2" stroke="#fff" stroke-width="4"/>
<line x1="1554.0" y1="3769.8" x2="1458.0" y2="3741.9" stroke="#fff" stroke-width="4"/>
<polyline points="997.3,4181.0 997.3,4259.0 1124.8,4259.0" fill="none" stroke="#5e5e5e" stroke-width="2.5"/>
<polyline points="1703.4,4181.0 1703.4,4259.0 1564.0,4259.0" fill="none" stroke="#5e5e5e" stroke-width="2.5"/>
<polyline points="1126.4,4327.0 997.3,4327.0 997.3,4350.0" fill="none" stroke="#5e5e5e" stroke-width="2.5"/>
<path d="M1409.1,4077.0 A214,214 0 1 1 1164.9,4395.8 L1246.1,4344.5 A118,118 0 1 0 1380.7,4168.7 Z" fill="#f7706a"/>
<path d="M1164.9,4395.8 A214,214 0 0 1 1132.2,4293.7 L1228.0,4288.2 A118,118 0 0 0 1246.1,4344.5 Z" fill="#959fa2"/>
<path d="M1132.2,4293.7 A214,214 0 0 1 1409.1,4077.0 L1380.7,4168.7 A118,118 0 0 0 1228.0,4288.2 Z" fill="#959fa2"/>
<line x1="1409.7" y1="4075.1" x2="1380.1" y2="4170.6" stroke="#fff" stroke-width="4"/>
<line x1="1163.2" y1="4396.8" x2="1247.7" y2="4343.4" stroke="#fff" stroke-width="4"/>
<line x1="1130.2" y1="4293.8" x2="1230.0" y2="4288.1" stroke="#fff" stroke-width="4"/>
<line x1="979" y1="4542.3" x2="1596.2" y2="4542.3" stroke="#5e5e5e" stroke-width="2.5"/>
<rect x="1613.9" y="4490.9" width="109.3" height="104.4" fill="#c9252c"/>
<line x1="1781.8" y1="2994.1" x2="2523.7" y2="2994.1" stroke="#636363" stroke-width="2.7"/>
<polyline points="1803.2,3534.3 1803.2,3668.2 1937.0,3668.2" fill="none" stroke="#5e5e5e" stroke-width="2.5"/>
<polyline points="2511.4,3564.3 2511.4,3668.2 2367.8,3668.2" fill="none" stroke="#5e5e5e" stroke-width="2.5"/>
<polyline points="2364.0,3762.5 2511.4,3762.5 2511.4,3790.3" fill="none" stroke="#5e5e5e" stroke-width="2.5"/>
<path d="M1967.3,3609.7 A214,214 0 0 1 2367.0,3720.6 L2271.0,3718.6 A118,118 0 0 0 2050.6,3657.5 Z" fill="#959fa2"/>
<path d="M2367.0,3720.6 A214,214 0 0 1 2313.8,3857.3 L2241.6,3794.0 A118,118 0 0 0 2271.0,3718.6 Z" fill="#959fa2"/>
<path d="M2313.8,3857.3 A214,214 0 0 1 1967.3,3609.7 L2050.6,3657.5 A118,118 0 0 0 2241.6,3794.0 Z" fill="#f7706a"/>
<line x1="1965.6" y1="3608.8" x2="2052.3" y2="3658.5" stroke="#fff" stroke-width="4"/>
<line x1="2369.0" y1="3720.6" x2="2269.0" y2="3718.5" stroke="#fff" stroke-width="4"/>
<line x1="2315.3" y1="3858.7" x2="2240.1" y2="3792.7" stroke="#fff" stroke-width="4"/>
<polyline points="1796.2,4192.0 1796.2,4269.6 1924.8,4269.6" fill="none" stroke="#5e5e5e" stroke-width="2.5"/>
<polyline points="2503.4,4192.0 2503.4,4269.6 2364.0,4269.6" fill="none" stroke="#5e5e5e" stroke-width="2.5"/>
<polyline points="2360.3,4330.2 2503.4,4330.2 2503.4,4355.4" fill="none" stroke="#5e5e5e" stroke-width="2.5"/>
<path d="M1991.6,4144.3 A214,214 0 0 1 2359.5,4296.4 L2263.5,4294.9 A118,118 0 0 0 2060.6,4211.0 Z" fill="#959fa2"/>
<path d="M2359.5,4296.4 A214,214 0 0 1 2330.1,4401.3 L2247.3,4352.7 A118,118 0 0 0 2263.5,4294.9 Z" fill="#959fa2"/>
<path d="M2330.1,4401.3 A214,214 0 1 1 1991.6,4144.3 L2060.6,4211.0 A118,118 0 1 0 2247.3,4352.7 Z" fill="#f7706a"/>
<line x1="1990.1" y1="4143.0" x2="2062.1" y2="4212.4" stroke="#fff" stroke-width="4"/>
<line x1="2361.5" y1="4296.4" x2="2261.5" y2="4294.8" stroke="#fff" stroke-width="4"/>
<line x1="2331.8" y1="4402.3" x2="2245.6" y2="4351.7" stroke="#fff" stroke-width="4"/>
<line x1="1781.8" y1="4546.0" x2="2397.8" y2="4546.0" stroke="#5e5e5e" stroke-width="2.5"/>
<rect x="2415" y="4493.6" width="109.8" height="103.9" fill="#c9252c"/>
<line x1="2585.5" y1="2994.1" x2="3329" y2="2994.1" stroke="#636363" stroke-width="2.7"/>
<polyline points="2600.5,3565.4 2600.5,3612.0 2751.6,3612.0" fill="none" stroke="#5e5e5e" stroke-width="2.5"/>
<polyline points="3308.7,3532.0 3308.7,3612.0 3190.9,3612.0" fill="none" stroke="#5e5e5e" stroke-width="2.5"/>
<polyline points="3192.5,3656.4 3308.7,3656.4 3308.7,3672.5" fill="none" stroke="#5e5e5e" stroke-width="2.5"/>
<path d="M2983.5,3422.8 A214,214 0 0 1 3187.4,3635.1 L3091.4,3635.8 A118,118 0 0 0 2979.0,3518.7 Z" fill="#959fa2"/>
<path d="M3187.4,3635.1 A214,214 0 0 1 3087.4,3817.7 L3036.3,3736.5 A118,118 0 0 0 3091.4,3635.8 Z" fill="#959fa2"/>
<path d="M3087.4,3817.7 A214,214 0 1 1 2983.5,3422.8 L2979.0,3518.7 A118,118 0 1 0 3036.3,3736.5 Z" fill="#f7706a"/>
<line x1="2983.6" y1="3420.8" x2="2978.9" y2="3520.7" stroke="#fff" stroke-width="4"/>
<line x1="3189.4" y1="3635.1" x2="3089.4" y2="3635.8" stroke="#fff" stroke-width="4"/>
<line x1="3088.5" y1="3819.4" x2="3035.2" y2="3734.8" stroke="#fff" stroke-width="4"/>
<polyline points="2603.2,4143.7 2603.2,4250.9 2733.9,4250.9" fill="none" stroke="#5e5e5e" stroke-width="2.5"/>
<polyline points="3311.4,4143.7 3311.4,4250.9 3172.1,4250.9" fill="none" stroke="#5e5e5e" stroke-width="2.5"/>
<polyline points="3166.8,4327.5 3311.4,4327.5 3311.4,4352.7" fill="none" stroke="#5e5e5e" stroke-width="2.5"/>
<path d="M2872.8,4073.1 A214,214 0 0 1 3166.9,4279.3 L3070.9,4275.8 A118,118 0 0 0 2908.8,4162.1 Z" fill="#959fa2"/>
<path d="M3166.9,4279.3 A214,214 0 0 1 2979.1,4483.9 L2967.4,4388.6 A118,118 0 0 0 3070.9,4275.8 Z" fill="#959fa2"/>
<path d="M2979.1,4483.9 A214,214 0 0 1 2872.8,4073.1 L2908.8,4162.1 A118,118 0 0 0 2967.4,4388.6 Z" fill="#f7706a"/>
<line x1="2872.1" y1="4071.2" x2="2909.5" y2="4163.9" stroke="#fff" stroke-width="4"/>
<line x1="3168.9" y1="4279.4" x2="3068.9" y2="4275.8" stroke="#fff" stroke-width="4"/>
<line x1="2979.3" y1="4485.9" x2="2967.1" y2="4386.6" stroke="#fff" stroke-width="4"/>
<line x1="2585.5" y1="4546.0" x2="3203.2" y2="4546.0" stroke="#5e5e5e" stroke-width="2.5"/>
<rect x="3220.3" y="4493.6" width="108.7" height="103.9" fill="#c9252c"/>
<line x1="2578" y1="978.1" x2="3322.7" y2="978.1" stroke="#636363" stroke-width="2.7"/>
<polyline points="2594.5,1491.5 2594.5,1572.6 2694.6,1572.6" fill="none" stroke="#5e5e5e" stroke-width="2.5"/>
<polyline points="3302.6,1549.8 3302.6,1572.6 3137.3,1572.6" fill="none" stroke="#5e5e5e" stroke-width="2.5"/>
<polyline points="3146.3,1648.8 3302.6,1648.8 3302.6,1670.0" fill="none" stroke="#5e5e5e" stroke-width="2.5"/>
<path d="M2726.8,1528.1 A214,214 0 0 1 3131.4,1606.7 L3035.7,1614.4 A118,118 0 0 0 2812.6,1571.1 Z" fill="#959fa2"/>
<path d="M3131.4,1606.7 A214,214 0 0 1 3057.4,1786.4 L2994.9,1713.5 A118,118 0 0 0 3035.7,1614.4 Z" fill="#959fa2"/>
<path d="M3057.4,1786.4 A214,214 0 0 1 2726.8,1528.1 L2812.6,1571.1 A118,118 0 0 0 2994.9,1713.5 Z" fill="#f7706a"/>
<line x1="2725.0" y1="1527.2" x2="2814.4" y2="1572.0" stroke="#fff" stroke-width="4"/>
<line x1="3133.4" y1="1606.6" x2="3033.7" y2="1614.6" stroke="#fff" stroke-width="4"/>
<line x1="3058.7" y1="1787.9" x2="2993.6" y2="1712.0" stroke="#fff" stroke-width="4"/>
<polyline points="2591.4,2123.6 2591.4,2237.5 2719.0,2237.5" fill="none" stroke="#5e5e5e" stroke-width="2.5"/>
<polyline points="3297.3,2123.6 3297.3,2237.5 3159.6,2237.5" fill="none" stroke="#5e5e5e" stroke-width="2.5"/>
<polyline points="2722.7,2315.3 2591.4,2315.3 2591.4,2338.0" fill="none" stroke="#5e5e5e" stroke-width="2.5"/>
<path d="M3140.8,2185.1 A214,214 0 0 1 2800.5,2421.1 L2863.0,2348.2 A118,118 0 0 0 3050.6,2218.0 Z" fill="#f7706a"/>
<path d="M2800.5,2421.1 A214,214 0 0 1 2725.9,2266.4 L2821.9,2262.9 A118,118 0 0 0 2863.0,2348.2 Z" fill="#959fa2"/>
<path d="M2725.9,2266.4 A214,214 0 0 1 3140.8,2185.1 L3050.6,2218.0 A118,118 0 0 0 2821.9,2262.9 Z" fill="#959fa2"/>
<line x1="3142.6" y1="2184.4" x2="3048.7" y2="2218.7" stroke="#fff" stroke-width="4"/>
<line x1="2799.2" y1="2422.6" x2="2864.3" y2="2346.7" stroke="#fff" stroke-width="4"/>
<line x1="2723.9" y1="2266.5" x2="2823.9" y2="2262.9" stroke="#fff" stroke-width="4"/>
<line x1="2578" y1="2527.5" x2="3195" y2="2527.5" stroke="#5e5e5e" stroke-width="2.5"/>
<rect x="3215.2" y="2477.3" width="107.5" height="102.7" fill="#c9252c"/>
<polyline points="47,2460.5 27,2480.5 47,2500.5" fill="none" stroke="#2a1f9a" stroke-width="4" stroke-linecap="round" stroke-linejoin="miter"/>
<polyline points="3461,2460.5 3481,2480.5 3461,2500.5" fill="none" stroke="#2a1f9a" stroke-width="4" stroke-linecap="round" stroke-linejoin="miter"/>
<rect x="2288" y="577" width="41" height="41" rx="7" fill="#5d60b9"/>
<path d="M2301,593.5h16M2301,598h14M2301,602.5h9" stroke="#c9caf0" stroke-width="2" fill="none"/>
<rect x="750" y="4878.5" width="2008" height="9" rx="4" fill="#a9a6b6" opacity="0.75"/>
<rect x="750" y="4877.5" width="255" height="11" rx="4" fill="#8b85b3"/>
<ellipse cx="3264.5" cy="4834" rx="12.5" ry="9" fill="#111"/><circle cx="3264.5" cy="4834" r="5.5" fill="none" stroke="#ddd" stroke-width="1.6"/><circle cx="3264.5" cy="4834" r="2" fill="#111"/>
<circle cx="3445" cy="4834" r="14" fill="#1a4fc0"/>
</svg>
<div class="t" style="left:184.5px;top:353.4px;font:700 73px/1 'Liberation Serif','Noto Serif CJK SC',serif;color:#111;transform:scaleX(1.0685);transform-origin:0 0;-webkit-text-stroke:1.2px #111;">10</div>
<div class="t" style="left:2668.0px;top:390.0px;font:700 40px/1 'Liberation Serif','Noto Serif CJK SC',serif;color:#1a1a1a;transform:scaleX(0.9601);transform-origin:0 0;-webkit-text-stroke:0.8px #1a1a1a;">La Tercera Domingo</div>
<div class="t" style="left:3017.0px;top:390.0px;font:400 40px/1 'Liberation Serif','Noto Serif CJK SC',serif;color:#3a3a3a;transform:scaleX(0.9779);transform-origin:0 0;">12 de abril de 2026</div>
<div class="t" style="left:186.0px;top:710.5px;font:400 151px/1 'Liberation Serif','Noto Serif CJK SC',serif;color:#1d1d1b;transform:scaleX(1.1216);transform-origin:0 0;-webkit-text-stroke:2px #fff;">Los cinco ministros con más</div>
<div class="t" style="left:186.0px;top:864.0px;font:400 151px/1 'Liberation Serif','Noto Serif CJK SC',serif;color:#1d1d1b;transform:scaleX(1.1253);transform-origin:0 0;-webkit-text-stroke:2px #fff;">atención de la gente</div>
<div class="t" style="left:231.0px;top:1073.3px;font:700 43px/1 'Liberation Serif','Noto Serif CJK SC',serif;color:#111;transform:scaleX(0.9279);transform-origin:0 0;">Jorge Quiroz, Hacienda</div>
<div class="t" style="left:220.0px;top:1125.0px;font:400 43px/1 'Liberation Serif','Noto Serif CJK SC',serif;color:#303030;letter-spacing:-0.100px;word-spacing:4.159px;">La ciudadanía se encuentra dividida en-</div>
<div class="t" style="left:182.0px;top:1176.8px;font:400 43px/1 'Liberation Serif','Noto Serif CJK SC',serif;color:#303030;letter-spacing:-0.100px;word-spacing:7.816px;">tre dos grandes preocupaciones económi-</div>
<div class="t" style="left:182.0px;top:1228.5px;font:400 43px/1 'Liberation Serif','Noto Serif CJK SC',serif;color:#303030;letter-spacing:-0.100px;word-spacing:0.379px;">cas: que la economía vuelva a crecer al 4%</div>
<div class="t" style="left:182.0px;top:1280.3px;font:400 43px/1 'Liberation Serif','Noto Serif CJK SC',serif;color:#303030;letter-spacing:-0.100px;word-spacing:2.154px;">(41%) y que el desempleo baje a cerca del</div>
<div class="t" style="left:182.0px;top:1332.0px;font:400 43px/1 'Liberation Serif','Noto Serif CJK SC',serif;color:#303030;letter-spacing:-1.809px;">6% (40%).</div>
<div class="t" style="left:220.0px;top:1383.8px;font:400 43px/1 'Liberation Serif','Noto Serif CJK SC',serif;color:#303030;letter-spacing:-0.100px;word-spacing:5.094px;">El equilibrio fiscal, si bien relevante en</div>
<div class="t" style="left:182.0px;top:1435.5px;font:400 43px/1 'Liberation Serif','Noto Serif CJK SC',serif;color:#303030;letter-spacing:-0.100px;word-spacing:11.984px;">términos técnicos, sólo es una prioridad</div>
<div class="t" style="left:182.0px;top:1487.3px;font:400 43px/1 'Liberation Serif','Noto Serif CJK SC',serif;color:#303030;letter-spacing:-0.609px;">para el 19% de los encuestados.</div>
<div class="t" style="left:236.0px;top:1539.0px;font:400 43px/1 'Liberation Serif','Noto Serif CJK SC',serif;color:#303030;letter-spacing:-0.100px;word-spacing:4.750px;">Esto sugiere que los chilenos priorizan</div>
<div class="t" style="left:182.0px;top:1590.8px;font:400 43px/1 'Liberation Serif','Noto Serif CJK SC',serif;color:#303030;letter-spacing:-0.100px;word-spacing:11.775px;">hoy los indicadores que afectan directa-</div>
<div class="t" style="left:182.0px;top:1642.5px;font:400 43px/1 'Liberation Serif','Noto Serif CJK SC',serif;color:#303030;letter-spacing:-0.100px;word-spacing:2.055px;">mente su bienestar cotidiano -un buen em-</div>
<div class="t" style="left:182.0px;top:1694.3px;font:400 43px/1 'Liberation Serif','Noto Serif CJK SC',serif;color:#303030;letter-spacing:-0.100px;word-spacing:7.229px;">pleo e ingresos- por sobre los equilibrios</div>
<div class="t" style="left:182.0px;top:1746.0px;font:400 43px/1 'Liberation Serif','Noto Serif CJK SC',serif;color:#303030;letter-spacing:-0.100px;word-spacing:0.841px;">macroeconómicos del país y su impacto en</div>
<div class="t" style="left:182.0px;top:1797.8px;font:400 43px/1 'Liberation Serif','Noto Serif CJK SC',serif;color:#303030;letter-spacing:0.083px;">otras materias.</div>
<div class="t" style="left:220.0px;top:1849.5px;font:400 43px/1 'Liberation Serif','Noto Serif CJK SC',serif;color:#303030;letter-spacing:-0.100px;word-spacing:-2.475px;">Quiroz registra un diferencial negativo de</div>
<div class="t" style="left:182.0px;top:1901.3px;font:400 43px/1 'Liberation Serif','Noto Serif CJK SC',serif;color:#303030;letter-spacing:-0.100px;word-spacing:-0.754px;">-5 puntos (42% cree que tiene las capacida-</div>
<div class="t" style="left:182.0px;top:1953.0px;font:400 43px/1 'Liberation Serif','Noto Serif CJK SC',serif;color:#303030;letter-spacing:-0.100px;word-spacing:6.049px;">des para llevar adelante su agenda versus</div>
<div class="t" style="left:182.0px;top:2004.8px;font:400 43px/1 'Liberation Serif','Noto Serif CJK SC',serif;color:#303030;letter-spacing:-0.100px;word-spacing:-1.667px;">47% que no), percepción que estaría afecta-</div>
<div class="t" style="left:182.0px;top:2056.5px;font:400 43px/1 'Liberation Serif','Noto Serif CJK SC',serif;color:#303030;letter-spacing:-0.260px;">da por la alza de los combustibles.</div>
<div class="t" style="left:222.0px;top:2160.0px;font:700 43px/1 'Liberation Serif','Noto Serif CJK SC',serif;color:#111;transform:scaleX(0.9171);transform-origin:0 0;">Mara Sedini, Segegob</div>
<div class="t" style="left:220.0px;top:2211.8px;font:400 43px/1 'Liberation Serif','Noto Serif CJK SC',serif;color:#303030;letter-spacing:-0.100px;word-spacing:15.019px;">Un 66% de los encuestados coincide</div>
<div class="t" style="left:182.0px;top:2263.5px;font:400 43px/1 'Liberation Serif','Noto Serif CJK SC',serif;color:#303030;letter-spacing:-0.100px;word-spacing:5.027px;">en que el principal desafío de la portavoz</div>
<div class="t" style="left:182.0px;top:2315.3px;font:400 43px/1 'Liberation Serif','Noto Serif CJK SC',serif;color:#303030;letter-spacing:-0.100px;word-spacing:17.391px;">de gobierno es una comunicación más</div>
<div class="t" style="left:182.0px;top:2367.0px;font:400 43px/1 'Liberation Serif','Noto Serif CJK SC',serif;color:#303030;letter-spacing:-0.100px;word-spacing:9.240px;">efectiva de las decisiones y políticas del</div>
<div class="t" style="left:182.0px;top:2418.8px;font:400 43px/1 'Liberation Serif','Noto Serif CJK SC',serif;color:#303030;letter-spacing:-0.100px;word-spacing:5.664px;">gobierno -el porcentaje más alto entre to-</div>
<div class="t" style="left:182.0px;top:2470.5px;font:400 43px/1 'Liberation Serif','Noto Serif CJK SC',serif;color:#303030;letter-spacing:-0.100px;word-spacing:10.177px;">dos los desafíos medidos en el estudio-.</div>
<div class="t" style="left:182.0px;top:2522.3px;font:400 43px/1 'Liberation Serif','Noto Serif CJK SC',serif;color:#303030;letter-spacing:-0.100px;word-spacing:20.862px;">A su vez, instalarse como una voce-</div>
<div class="t" style="left:182.0px;top:2574.0px;font:400 43px/1 'Liberation Serif','Noto Serif CJK SC',serif;color:#303030;letter-spacing:-0.100px;word-spacing:25.772px;">ra creíble alcanza un 28%, mientras</div>
<div class="t" style="left:980.0px;top:1073.3px;font:400 43px/1 'Liberation Serif','Noto Serif CJK SC',serif;color:#303030;letter-spacing:-0.100px;word-spacing:16.357px;">que contener crisis y proteger la figu-</div>
<div class="t" style="left:980.0px;top:1125.0px;font:400 43px/1 'Liberation Serif','Noto Serif CJK SC',serif;color:#303030;letter-spacing:-0.100px;word-spacing:19.315px;">ra del presidente apenas llega al 6%.</div>
<div class="t" style="left:980.0px;top:1176.8px;font:400 43px/1 'Liberation Serif','Noto Serif CJK SC',serif;color:#303030;letter-spacing:-0.100px;word-spacing:1.303px;">Sedini enfrenta la evaluación más negativa</div>
<div class="t" style="left:980.0px;top:1228.5px;font:400 43px/1 'Liberation Serif','Noto Serif CJK SC',serif;color:#303030;letter-spacing:-0.100px;word-spacing:-2.804px;">del gabinete: solo un 31% considera que tie-</div>
<div class="t" style="left:980.0px;top:1280.3px;font:400 43px/1 'Liberation Serif','Noto Serif CJK SC',serif;color:#303030;letter-spacing:-0.100px;word-spacing:-0.716px;">ne las capacidades necesarias para el cargo,</div>
<div class="t" style="left:980.0px;top:1332.0px;font:400 43px/1 'Liberation Serif','Noto Serif CJK SC',serif;color:#303030;letter-spacing:-0.293px;">frente a un 61% que opina lo contrario.</div>
<div class="t" style="left:1020.0px;top:1435.5px;font:700 43px/1 'Liberation Serif','Noto Serif CJK SC',serif;color:#111;transform:scaleX(0.9377);transform-origin:0 0;">Iván Poduje, Vivienda y Urbanismo</div>
<div class="t" style="left:1018.0px;top:1487.3px;font:400 43px/1 'Liberation Serif','Noto Serif CJK SC',serif;color:#303030;letter-spacing:-0.100px;word-spacing:12.602px;">La reconstrucción tras los megaincen-</div>
<div class="t" style="left:980.0px;top:1539.0px;font:400 43px/1 'Liberation Serif','Noto Serif CJK SC',serif;color:#303030;letter-spacing:-0.100px;word-spacing:1.839px;">dios aparece como su desafío número uno,</div>
<div class="t" style="left:980.0px;top:1590.8px;font:400 43px/1 'Liberation Serif','Noto Serif CJK SC',serif;color:#303030;letter-spacing:-0.100px;word-spacing:4.053px;">con un 47%, seguido muy de cerca por la</div>
<div class="t" style="left:980.0px;top:1642.5px;font:400 43px/1 'Liberation Serif','Noto Serif CJK SC',serif;color:#303030;letter-spacing:-0.100px;word-spacing:-1.081px;">construcción de viviendas sociales y el des-</div>
<div class="t" style="left:980.0px;top:1694.3px;font:400 43px/1 'Liberation Serif','Noto Serif CJK SC',serif;color:#303030;letter-spacing:-0.570px;">alojo de campamentos ilegales (42%).</div>
<div class="t" style="left:1018.0px;top:1746.0px;font:400 43px/1 'Liberation Serif','Noto Serif CJK SC',serif;color:#303030;letter-spacing:-0.100px;word-spacing:-1.648px;">La reactivación del mercado inmobiliario</div>
<div class="t" style="left:980.0px;top:1797.8px;font:400 43px/1 'Liberation Serif','Noto Serif CJK SC',serif;color:#303030;letter-spacing:-0.459px;">ocupa un tercer lugar, con sólo un 11%.</div>
<div class="t" style="left:1018.0px;top:1849.5px;font:400 43px/1 'Liberation Serif','Noto Serif CJK SC',serif;color:#303030;letter-spacing:-0.100px;word-spacing:14.122px;">El polémico arquitecto es el ministro</div>
<div class="t" style="left:980.0px;top:1901.3px;font:400 43px/1 'Liberation Serif','Noto Serif CJK SC',serif;color:#303030;letter-spacing:-0.100px;word-spacing:4.801px;">mejor evaluado de los cinco, con un 54%</div>
<div class="t" style="left:980.0px;top:1953.0px;font:400 43px/1 'Liberation Serif','Noto Serif CJK SC',serif;color:#303030;letter-spacing:-0.100px;word-spacing:4.537px;">que cree en sus capacidades y es el único</div>
<div class="t" style="left:980.0px;top:2004.8px;font:400 43px/1 'Liberation Serif','Noto Serif CJK SC',serif;color:#303030;letter-spacing:-0.100px;word-spacing:5.348px;">que supera la barrera del 50% de aproba-</div>
<div class="t" style="left:980.0px;top:2056.5px;font:400 43px/1 'Liberation Serif','Noto Serif CJK SC',serif;color:#303030;letter-spacing:0.103px;">ción en esta dimensión.</div>
<div class="t" style="left:1020.0px;top:2160.0px;font:700 43px/1 'Liberation Serif','Noto Serif CJK SC',serif;color:#111;transform:scaleX(0.9369);transform-origin:0 0;">Trinidad Steinert, Seguridad Pública</div>
<div class="t" style="left:1018.0px;top:2211.8px;font:400 43px/1 'Liberation Serif','Noto Serif CJK SC',serif;color:#303030;letter-spacing:-0.100px;word-spacing:7.691px;">Sus dos principales desafíos, según los</div>
<div class="t" style="left:980.0px;top:2263.5px;font:400 43px/1 'Liberation Serif','Noto Serif CJK SC',serif;color:#303030;letter-spacing:-0.100px;word-spacing:7.044px;">consultados, son reducir las cifras de ho-</div>
<div class="t" style="left:980.0px;top:2315.3px;font:400 43px/1 'Liberation Serif','Noto Serif CJK SC',serif;color:#303030;letter-spacing:-0.100px;word-spacing:5.451px;">micidios (44%) y respaldar a las policías,</div>
<div class="t" style="left:980.0px;top:2367.0px;font:400 43px/1 'Liberation Serif','Noto Serif CJK SC',serif;color:#303030;letter-spacing:-0.100px;word-spacing:5.242px;">ampliando la protección a su legítima de-</div>
<div class="t" style="left:980.0px;top:2418.8px;font:400 43px/1 'Liberation Serif','Noto Serif CJK SC',serif;color:#303030;letter-spacing:-1.474px;">fensa (41%).</div>
<div class="t" style="left:1018.0px;top:2470.5px;font:400 43px/1 'Liberation Serif','Noto Serif CJK SC',serif;color:#303030;letter-spacing:-0.100px;word-spacing:5.556px;">La construcción de cárceles de máxima</div>
<div class="t" style="left:980.0px;top:2522.3px;font:400 43px/1 'Liberation Serif','Noto Serif CJK SC',serif;color:#303030;letter-spacing:-0.100px;word-spacing:10.850px;">seguridad para aislar a cabecillas narcos</div>
<div class="t" style="left:980.0px;top:2574.0px;font:400 43px/1 'Liberation Serif','Noto Serif CJK SC',serif;color:#303030;letter-spacing:-0.776px;">obtiene un 15%.</div>
<div class="t" style="left:1818.0px;top:1073.3px;font:400 43px/1 'Liberation Serif','Noto Serif CJK SC',serif;color:#303030;letter-spacing:-0.100px;word-spacing:13.789px;">Esta distribución refleja una demanda</div>
<div class="t" style="left:1780.0px;top:1125.0px;font:400 43px/1 'Liberation Serif','Noto Serif CJK SC',serif;color:#303030;letter-spacing:-0.100px;word-spacing:9.066px;">ciudadana centrada en resultados concre-</div>
<div class="t" style="left:1780.0px;top:1176.8px;font:400 43px/1 'Liberation Serif','Noto Serif CJK SC',serif;color:#303030;letter-spacing:-0.100px;word-spacing:5.271px;">tos y visibles en seguridad, que es lo que</div>
<div class="t" style="left:1780.0px;top:1228.5px;font:400 43px/1 'Liberation Serif','Noto Serif CJK SC',serif;color:#303030;letter-spacing:-0.100px;word-spacing:7.273px;">prometió reiteradamente el líder Republi-</div>
<div class="t" style="left:1780.0px;top:1280.3px;font:400 43px/1 'Liberation Serif','Noto Serif CJK SC',serif;color:#303030;letter-spacing:-0.040px;">cano en su campaña presidencial.</div>
<div class="t" style="left:1818.0px;top:1332.0px;font:400 43px/1 'Liberation Serif','Noto Serif CJK SC',serif;color:#303030;letter-spacing:-0.100px;word-spacing:-0.737px;">Un 42% considera que la abogada cuenta</div>
<div class="t" style="left:1780.0px;top:1383.8px;font:400 43px/1 'Liberation Serif','Noto Serif CJK SC',serif;color:#303030;letter-spacing:-0.100px;word-spacing:5.682px;">con las capacidades para enfrentar su tra-</div>
<div class="t" style="left:1780.0px;top:1435.5px;font:400 43px/1 'Liberation Serif','Noto Serif CJK SC',serif;color:#303030;letter-spacing:-0.123px;">bajo, mientras que un 45% indica que no.</div>
<div class="t" style="left:1818.0px;top:1487.3px;font:400 43px/1 'Liberation Serif','Noto Serif CJK SC',serif;color:#303030;letter-spacing:-0.100px;word-spacing:3.388px;">Es decir, se observa un diferencial leve-</div>
<div class="t" style="left:1780.0px;top:1539.0px;font:400 43px/1 'Liberation Serif','Noto Serif CJK SC',serif;color:#303030;letter-spacing:-0.100px;word-spacing:6.984px;">mente negativo de tres puntos porcentua-</div>
<div class="t" style="left:1780.0px;top:1590.8px;font:400 43px/1 'Liberation Serif','Noto Serif CJK SC',serif;color:#303030;letter-spacing:-0.100px;word-spacing:-2.623px;">les, mientras un 13% no sabe o no responde.</div>
<div class="t" style="left:1820.0px;top:1694.3px;font:700 43px/1 'Liberation Serif','Noto Serif CJK SC',serif;color:#111;transform:scaleX(0.9217);transform-origin:0 0;">Louis de Grange, Transportes</div>
<div class="t" style="left:1818.0px;top:1746.0px;font:400 43px/1 'Liberation Serif','Noto Serif CJK SC',serif;color:#303030;letter-spacing:-0.100px;word-spacing:6.172px;">Revertir el déficit financiero estructural</div>
<div class="t" style="left:1780.0px;top:1797.8px;font:400 43px/1 'Liberation Serif','Noto Serif CJK SC',serif;color:#303030;letter-spacing:-0.100px;word-spacing:4.417px;">del Transantiago concentra un 60% de las</div>
<div class="t" style="left:1780.0px;top:1849.5px;font:400 43px/1 'Liberation Serif','Noto Serif CJK SC',serif;color:#303030;letter-spacing:-0.100px;word-spacing:3.340px;">menciones, constituyéndose en el segundo</div>
<div class="t" style="left:1780.0px;top:1901.3px;font:400 43px/1 'Liberation Serif','Noto Serif CJK SC',serif;color:#303030;letter-spacing:-0.100px;word-spacing:7.193px;">desafío con más consenso -después de la</div>
<div class="t" style="left:1780.0px;top:1953.0px;font:400 43px/1 'Liberation Serif','Noto Serif CJK SC',serif;color:#303030;letter-spacing:-0.208px;">comunicación efectiva para la vocera-.</div>
<div class="t" style="left:1818.0px;top:2004.8px;font:400 43px/1 'Liberation Serif','Noto Serif CJK SC',serif;color:#303030;letter-spacing:-0.100px;word-spacing:3.978px;">Potenciar el área digital de Telecomuni-</div>
<div class="t" style="left:1780.0px;top:2056.5px;font:400 43px/1 'Liberation Serif','Noto Serif CJK SC',serif;color:#303030;letter-spacing:-0.100px;word-spacing:-1.041px;">caciones (24%) y flexibilizar las exigencias</div>
<div class="t" style="left:1780.0px;top:2108.3px;font:400 43px/1 'Liberation Serif','Noto Serif CJK SC',serif;color:#303030;letter-spacing:-0.100px;word-spacing:-0.362px;">para aplicaciones de transporte, como Uber</div>
<div class="t" style="left:1780.0px;top:2160.0px;font:400 43px/1 'Liberation Serif','Noto Serif CJK SC',serif;color:#303030;letter-spacing:-0.669px;">y Cabify (16%) complementan la agenda.</div>
<div class="t" style="left:1818.0px;top:2211.8px;font:400 43px/1 'Liberation Serif','Noto Serif CJK SC',serif;color:#303030;letter-spacing:-0.100px;word-spacing:4.188px;">El ingeniero civil obtiene un diferencial</div>
<div class="t" style="left:1780.0px;top:2263.5px;font:400 43px/1 'Liberation Serif','Noto Serif CJK SC',serif;color:#303030;letter-spacing:-0.100px;word-spacing:3.347px;">positivo de +14 puntos porcentuales, sien-</div>
<div class="t" style="left:1780.0px;top:2315.3px;font:400 43px/1 'Liberation Serif','Noto Serif CJK SC',serif;color:#303030;letter-spacing:-0.100px;word-spacing:2.242px;">do el segundo mejor evaluado tras Poduje.</div>
<div class="t" style="left:1780.0px;top:2367.0px;font:400 43px/1 'Liberation Serif','Noto Serif CJK SC',serif;color:#303030;letter-spacing:-0.100px;word-spacing:4.537px;">Sin embargo, registra el mayor porcentaje</div>
<div class="t" style="left:1780.0px;top:2418.8px;font:400 43px/1 'Liberation Serif','Noto Serif CJK SC',serif;color:#303030;letter-spacing:-0.100px;word-spacing:4.365px;">de “no sabe / no responde” (22%), lo que</div>
<div class="t" style="left:1780.0px;top:2470.5px;font:400 43px/1 'Liberation Serif','Noto Serif CJK SC',serif;color:#303030;letter-spacing:-0.100px;word-spacing:7.591px;">indica que un segmento importante de la</div>
<div class="t" style="left:1780.0px;top:2522.3px;font:400 43px/1 'Liberation Serif','Noto Serif CJK SC',serif;color:#303030;letter-spacing:-0.100px;word-spacing:1.547px;">población aún no tiene una opinión de él o</div>
<div class="t" style="left:1780.0px;top:2574.0px;font:400 43px/1 'Liberation Serif','Noto Serif CJK SC',serif;color:#303030;letter-spacing:-0.189px;">no lo conoce.</div>
<div class="t" style="left:188.0px;top:2780.9px;font:700 73px/1 'Liberation Serif','Noto Serif CJK SC',serif;color:#1d1d1b;transform:scaleX(0.9989);transform-origin:0 0;-webkit-text-stroke:1.5px #1d1d1b;">Jorge Quiroz,</div>
<div class="t" style="left:189.5px;top:2852.7px;font:400 72px/1 'Liberation Serif','Noto Serif CJK SC',serif;color:#2a2a2a;transform:scaleX(1.0750);transform-origin:0 0;-webkit-text-stroke:1px #fff;">ministro de Hacienda</div>
<div class="t" style="left:641.6px;top:3075.6px;font:700 45px/1 'Liberation Sans','Noto Sans CJK SC',sans-serif;color:#1d1d1b;transform:scaleX(0.8658);transform-origin:0 0;-webkit-text-stroke:2.4px #1d1d1b;">JORGE</div>
<div class="t" style="left:641.6px;top:3133.6px;font:700 45px/1 'Liberation Sans','Noto Sans CJK SC',sans-serif;color:#1d1d1b;transform:scaleX(0.9566);transform-origin:0 0;-webkit-text-stroke:2.4px #1d1d1b;">QUIROZ</div>
<div class="t" style="left:183.6px;top:3283.2px;font:400 34px/1 'Liberation Sans','Noto Sans CJK SC',sans-serif;color:#222;transform:scaleX(0.9221);transform-origin:0 0;-webkit-text-stroke:0.8px #222;">Pensando en el ministro de Hacienda Jorge Quiroz:</div>
<div class="t" style="left:183.6px;top:3322.5px;font:400 34px/1 'Liberation Sans','Noto Sans CJK SC',sans-serif;color:#222;transform:scaleX(0.9195);transform-origin:0 0;-webkit-text-stroke:0.8px #222;">¿Cuál es el principal desafío de su cartera?</div>
<div class="t" style="left:183.6px;top:3380.8px;font:700 37.5px/1 'Liberation Sans','Noto Sans CJK SC',sans-serif;color:#1d1d1b;transform:scaleX(0.9858);transform-origin:0 0;-webkit-text-stroke:0.7px #1d1d1b;">41%</div>
<div class="t" style="left:183.6px;top:3419.5px;font:400 29px/1 'Liberation Sans','Noto Sans CJK SC',sans-serif;color:#333;transform:scaleX(0.9554);transform-origin:0 0;-webkit-text-stroke:0.3px #333;">Que la economía</div>
<div class="t" style="left:183.6px;top:3450.9px;font:400 29px/1 'Liberation Sans','Noto Sans CJK SC',sans-serif;color:#333;transform:scaleX(0.9628);transform-origin:0 0;-webkit-text-stroke:0.3px #333;">vuelva a</div>
<div class="t" style="left:183.6px;top:3482.3px;font:400 29px/1 'Liberation Sans','Noto Sans CJK SC',sans-serif;color:#333;transform:scaleX(0.9555);transform-origin:0 0;-webkit-text-stroke:0.3px #333;">crecer al 4%</div>
<div class="t" style="left:846.7px;top:3380.8px;font:700 37.5px/1 'Liberation Sans','Noto Sans CJK SC',sans-serif;color:#1d1d1b;transform:scaleX(1.0658);transform-origin:100% 0;-webkit-text-stroke:0.7px #1d1d1b;">40%</div>
<div class="t" style="left:686.4px;top:3419.5px;font:400 29px/1 'Liberation Sans','Noto Sans CJK SC',sans-serif;color:#333;transform:scaleX(0.9772);transform-origin:100% 0;-webkit-text-stroke:0.3px #333;">Que el desempleo</div>
<div class="t" style="left:763.8px;top:3450.9px;font:400 29px/1 'Liberation Sans','Noto Sans CJK SC',sans-serif;color:#333;transform:scaleX(0.9241);transform-origin:100% 0;-webkit-text-stroke:0.3px #333;">baje a cerca</div>
<div class="t" style="left:833.1px;top:3482.3px;font:400 29px/1 'Liberation Sans','Noto Sans CJK SC',sans-serif;color:#333;transform:scaleX(0.9586);transform-origin:100% 0;-webkit-text-stroke:0.3px #333;">del 6%</div>
<div class="t" style="left:846.7px;top:3737.3px;font:700 37.5px/1 'Liberation Sans','Noto Sans CJK SC',sans-serif;color:#1d1d1b;transform:scaleX(0.9192);transform-origin:100% 0;-webkit-text-stroke:0.7px #1d1d1b;">19%</div>
<div class="t" style="left:792.8px;top:3777.5px;font:400 29px/1 'Liberation Sans','Noto Sans CJK SC',sans-serif;color:#333;transform:scaleX(0.9305);transform-origin:100% 0;-webkit-text-stroke:0.3px #333;">Que Chile</div>
<div class="t" style="left:731.6px;top:3808.9px;font:400 29px/1 'Liberation Sans','Noto Sans CJK SC',sans-serif;color:#333;transform:scaleX(0.9515);transform-origin:100% 0;-webkit-text-stroke:0.3px #333;">vuelva a lograr</div>
<div class="t" style="left:691.3px;top:3840.3px;font:400 29px/1 'Liberation Sans','Noto Sans CJK SC',sans-serif;color:#333;transform:scaleX(0.9761);transform-origin:100% 0;-webkit-text-stroke:0.3px #333;">un equilibrio fiscal</div>
<div class="t" style="left:183.6px;top:3911.2px;font:400 34px/1 'Liberation Sans','Noto Sans CJK SC',sans-serif;color:#222;transform:scaleX(0.9337);transform-origin:0 0;-webkit-text-stroke:0.8px #222;">¿Usted considera que el ministro Quiroz tiene</div>
<div class="t" style="left:183.6px;top:3950.5px;font:400 34px/1 'Liberation Sans','Noto Sans CJK SC',sans-serif;color:#222;transform:scaleX(0.9241);transform-origin:0 0;-webkit-text-stroke:0.8px #222;">las capacidades necesarias para enfrentar los</div>
<div class="t" style="left:183.6px;top:3989.8px;font:400 34px/1 'Liberation Sans','Noto Sans CJK SC',sans-serif;color:#222;transform:scaleX(0.9231);transform-origin:0 0;-webkit-text-stroke:0.8px #222;">desafíos de su cartera?</div>
<div class="t" style="left:183.6px;top:4038.7px;font:700 37.5px/1 'Liberation Sans','Noto Sans CJK SC',sans-serif;color:#1d1d1b;transform:scaleX(1.0391);transform-origin:0 0;-webkit-text-stroke:0.7px #1d1d1b;">42%</div>
<div class="t" style="left:183.6px;top:4078.0px;font:400 29px/1 'Liberation Sans','Noto Sans CJK SC',sans-serif;color:#333;transform:scaleX(0.8757);transform-origin:0 0;-webkit-text-stroke:0.3px #333;">Sí</div>
<div class="t" style="left:846.7px;top:4038.7px;font:700 37.5px/1 'Liberation Sans','Noto Sans CJK SC',sans-serif;color:#1d1d1b;transform:scaleX(1.0125);transform-origin:100% 0;-webkit-text-stroke:0.7px #1d1d1b;">47%</div>
<div class="t" style="left:884.7px;top:4078.0px;font:400 29px/1 'Liberation Sans','Noto Sans CJK SC',sans-serif;color:#333;transform:scaleX(0.9440);transform-origin:100% 0;-webkit-text-stroke:0.3px #333;">No</div>
<div class="t" style="left:848.8px;top:4369.3px;font:700 37.5px/1 'Liberation Sans','Noto Sans CJK SC',sans-serif;color:#1d1d1b;transform:scaleX(0.8493);transform-origin:100% 0;-webkit-text-stroke:0.7px #1d1d1b;">11%</div>
<div class="t" style="left:797.7px;top:4411.2px;font:400 29px/1 'Liberation Sans','Noto Sans CJK SC',sans-serif;color:#333;transform:scaleX(0.9828);transform-origin:100% 0;-webkit-text-stroke:0.3px #333;">No sabe /</div>
<div class="t" style="left:744.5px;top:4440.7px;font:400 29px/1 'Liberation Sans','Noto Sans CJK SC',sans-serif;color:#333;transform:scaleX(0.9586);transform-origin:100% 0;-webkit-text-stroke:0.3px #333;">No Responde</div>
<div class="t" style="left:183.6px;top:4507.3px;font:400 28px/1 'Liberation Sans','Noto Sans CJK SC',sans-serif;color:#444;transform:scaleX(0.9843);transform-origin:0 0;">Total muestra: 975 casos</div>
<div class="t" style="left:183.6px;top:4574.6px;font:400 27px/1 'Liberation Sans','Noto Sans CJK SC',sans-serif;color:#222;transform:scaleX(0.7913);transform-origin:0 0;-webkit-text-stroke:0.6px #222;">FUENTE:</div>
<div class="t" style="left:284.1px;top:4574.6px;font:400 27px/1 'Liberation Sans','Noto Sans CJK SC',sans-serif;color:#333;transform:scaleX(1.0143);transform-origin:0 0;">Descifra</div>
<div class="t" style="left:640.0px;top:4575.5px;font:700 26px/1 'Liberation Sans','Noto Sans CJK SC',sans-serif;color:#1d1d1b;transform:scaleX(0.9364);transform-origin:0 0;-webkit-text-stroke:0.8px #1d1d1b;">LA TERCERA</div>
<div class="t" style="left:828.7px;top:4496.1px;font:700 100.78299999999965px/1 'Liberation Sans','Noto Sans CJK SC',sans-serif;color:#fff;transform:scaleX(0.7239);transform-origin:0 0;">LT</div>
<div class="t" style="left:987.0px;top:2780.9px;font:700 73px/1 'Liberation Serif','Noto Serif CJK SC',serif;color:#1d1d1b;transform:scaleX(0.9912);transform-origin:0 0;-webkit-text-stroke:1.5px #1d1d1b;">Mara Sedini,</div>
<div class="t" style="left:989.0px;top:2852.7px;font:400 72px/1 'Liberation Serif','Noto Serif CJK SC',serif;color:#2a2a2a;transform:scaleX(1.0459);transform-origin:0 0;-webkit-text-stroke:1px #fff;">vocera de Gobierno</div>
<div class="t" style="left:1447.8px;top:3073.6px;font:700 45px/1 'Liberation Sans','Noto Sans CJK SC',sans-serif;color:#1d1d1b;transform:scaleX(0.9609);transform-origin:0 0;-webkit-text-stroke:2.4px #1d1d1b;">MARA</div>
<div class="t" style="left:1447.8px;top:3131.6px;font:700 45px/1 'Liberation Sans','Noto Sans CJK SC',sans-serif;color:#1d1d1b;transform:scaleX(0.9278);transform-origin:0 0;-webkit-text-stroke:2.4px #1d1d1b;">SEDINI</div>
<div class="t" style="left:982.9px;top:3282.7px;font:400 34px/1 'Liberation Sans','Noto Sans CJK SC',sans-serif;color:#222;transform:scaleX(0.9103);transform-origin:0 0;-webkit-text-stroke:0.8px #222;">Pensando en la ministra vocera Mara Sedini: ¿Cuál</div>
<div class="t" style="left:982.9px;top:3322.0px;font:400 34px/1 'Liberation Sans','Noto Sans CJK SC',sans-serif;color:#222;transform:scaleX(0.9159);transform-origin:0 0;-webkit-text-stroke:0.8px #222;">es el principal desafío de su cartera?</div>
<div class="t" style="left:982.9px;top:3372.9px;font:700 37.5px/1 'Liberation Sans','Noto Sans CJK SC',sans-serif;color:#1d1d1b;transform:scaleX(1.0538);transform-origin:0 0;-webkit-text-stroke:0.7px #1d1d1b;">66%</div>
<div class="t" style="left:982.9px;top:3413.4px;font:400 29px/1 'Liberation Sans','Noto Sans CJK SC',sans-serif;color:#333;transform:scaleX(0.9658);transform-origin:0 0;-webkit-text-stroke:0.3px #333;">Comunicar de manera</div>
<div class="t" style="left:982.9px;top:3444.3px;font:400 29px/1 'Liberation Sans','Noto Sans CJK SC',sans-serif;color:#333;transform:scaleX(0.9688);transform-origin:0 0;-webkit-text-stroke:0.3px #333;">efectiva las decisiones</div>
<div class="t" style="left:982.9px;top:3475.2px;font:400 29px/1 'Liberation Sans','Noto Sans CJK SC',sans-serif;color:#333;transform:scaleX(0.9768);transform-origin:0 0;-webkit-text-stroke:0.3px #333;">y políticas impulsadas</div>
<div class="t" style="left:982.9px;top:3506.1px;font:400 29px/1 'Liberation Sans','Noto Sans CJK SC',sans-serif;color:#333;transform:scaleX(0.9742);transform-origin:0 0;-webkit-text-stroke:0.3px #333;">por el gobierno</div>
<div class="t" style="left:1640.7px;top:3372.9px;font:700 37.5px/1 'Liberation Sans','Noto Sans CJK SC',sans-serif;color:#1d1d1b;transform:scaleX(1.0498);transform-origin:0 0;-webkit-text-stroke:0.7px #1d1d1b;">28%</div>
<div class="t" style="left:1518.6px;top:3413.4px;font:400 29px/1 'Liberation Sans','Noto Sans CJK SC',sans-serif;color:#333;transform:scaleX(0.9814);transform-origin:0 0;-webkit-text-stroke:0.3px #333;">Instalarse como</div>
<div class="t" style="left:1547.0px;top:3444.3px;font:400 29px/1 'Liberation Sans','Noto Sans CJK SC',sans-serif;color:#333;transform:scaleX(0.9470);transform-origin:0 0;-webkit-text-stroke:0.3px #333;">vocera creíble</div>
<div class="t" style="left:1537.3px;top:3475.2px;font:400 29px/1 'Liberation Sans','Noto Sans CJK SC',sans-serif;color:#333;transform:scaleX(0.9658);transform-origin:0 0;-webkit-text-stroke:0.3px #333;">ante la opinión</div>
<div class="t" style="left:1631.0px;top:3506.1px;font:400 29px/1 'Liberation Sans','Noto Sans CJK SC',sans-serif;color:#333;transform:scaleX(0.9629);transform-origin:0 0;-webkit-text-stroke:0.3px #333;">pública</div>
<div class="t" style="left:1660.5px;top:3756.0px;font:700 37.5px/1 'Liberation Sans','Noto Sans CJK SC',sans-serif;color:#1d1d1b;transform:scaleX(1.0885);transform-origin:0 0;-webkit-text-stroke:0.7px #1d1d1b;">6%</div>
<div class="t" style="left:1601.6px;top:3795.3px;font:400 29px/1 'Liberation Sans','Noto Sans CJK SC',sans-serif;color:#333;transform:scaleX(0.9882);transform-origin:0 0;-webkit-text-stroke:0.3px #333;">Contener</div>
<div class="t" style="left:1633.7px;top:3826.5px;font:400 29px/1 'Liberation Sans','Noto Sans CJK SC',sans-serif;color:#333;transform:scaleX(0.9683);transform-origin:0 0;-webkit-text-stroke:0.3px #333;">crisis y</div>
<div class="t" style="left:1505.2px;top:3857.7px;font:400 29px/1 'Liberation Sans','Noto Sans CJK SC',sans-serif;color:#333;transform:scaleX(0.9774);transform-origin:0 0;-webkit-text-stroke:0.3px #333;">proteger la figura</div>
<div class="t" style="left:1537.3px;top:3888.9px;font:400 29px/1 'Liberation Sans','Noto Sans CJK SC',sans-serif;color:#333;transform:scaleX(0.9827);transform-origin:0 0;-webkit-text-stroke:0.3px #333;">del Presidente</div>
<div class="t" style="left:982.9px;top:3967.6px;font:400 34px/1 'Liberation Sans','Noto Sans CJK SC',sans-serif;color:#222;transform:scaleX(0.9227);transform-origin:0 0;-webkit-text-stroke:0.8px #222;">¿Usted considera que la ministra Sedini tiene las</div>
<div class="t" style="left:982.9px;top:4006.9px;font:400 34px/1 'Liberation Sans','Noto Sans CJK SC',sans-serif;color:#222;transform:scaleX(0.9253);transform-origin:0 0;-webkit-text-stroke:0.8px #222;">capacidades necesarias para enfrentar los desafíos</div>
<div class="t" style="left:982.9px;top:4046.2px;font:400 34px/1 'Liberation Sans','Noto Sans CJK SC',sans-serif;color:#222;transform:scaleX(0.9238);transform-origin:0 0;-webkit-text-stroke:0.8px #222;">de su cartera?</div>
<div class="t" style="left:982.9px;top:4097.6px;font:700 37.5px/1 'Liberation Sans','Noto Sans CJK SC',sans-serif;color:#1d1d1b;transform:scaleX(0.9272);transform-origin:0 0;-webkit-text-stroke:0.7px #1d1d1b;">31%</div>
<div class="t" style="left:982.9px;top:4136.9px;font:400 29px/1 'Liberation Sans','Noto Sans CJK SC',sans-serif;color:#333;transform:scaleX(0.8429);transform-origin:0 0;-webkit-text-stroke:0.3px #333;">Sí</div>
<div class="t" style="left:1648.0px;top:4097.6px;font:700 37.5px/1 'Liberation Sans','Noto Sans CJK SC',sans-serif;color:#1d1d1b;transform:scaleX(0.9525);transform-origin:0 0;-webkit-text-stroke:0.7px #1d1d1b;">61%</div>
<div class="t" style="left:1683.5px;top:4136.9px;font:400 29px/1 'Liberation Sans','Noto Sans CJK SC',sans-serif;color:#333;transform:scaleX(0.9709);transform-origin:0 0;-webkit-text-stroke:0.3px #333;">No</div>
<div class="t" style="left:982.9px;top:4361.2px;font:700 37.5px/1 'Liberation Sans','Noto Sans CJK SC',sans-serif;color:#1d1d1b;transform:scaleX(1.0664);transform-origin:0 0;-webkit-text-stroke:0.7px #1d1d1b;">8%</div>
<div class="t" style="left:982.9px;top:4403.2px;font:400 29px/1 'Liberation Sans','Noto Sans CJK SC',sans-serif;color:#333;transform:scaleX(0.9707);transform-origin:0 0;-webkit-text-stroke:0.3px #333;">No sabe /</div>
<div class="t" style="left:982.9px;top:4433.7px;font:400 29px/1 'Liberation Sans','Noto Sans CJK SC',sans-serif;color:#333;transform:scaleX(0.9575);transform-origin:0 0;-webkit-text-stroke:0.3px #333;">No Responde</div>
<div class="t" style="left:980.2px;top:4504.1px;font:400 28px/1 'Liberation Sans','Noto Sans CJK SC',sans-serif;color:#444;transform:scaleX(0.9930);transform-origin:0 0;">Total muestra: 975 casos</div>
<div class="t" style="left:980.2px;top:4570.8px;font:400 27px/1 'Liberation Sans','Noto Sans CJK SC',sans-serif;color:#222;transform:scaleX(0.8016);transform-origin:0 0;-webkit-text-stroke:0.6px #222;">FUENTE:</div>
<div class="t" style="left:1082.0px;top:4570.8px;font:400 27px/1 'Liberation Sans','Noto Sans CJK SC',sans-serif;color:#333;transform:scaleX(1.0275);transform-origin:0 0;">Descifra</div>
<div class="t" style="left:1438.2px;top:4571.7px;font:700 26px/1 'Liberation Sans','Noto Sans CJK SC',sans-serif;color:#1d1d1b;transform:scaleX(0.9388);transform-origin:0 0;-webkit-text-stroke:0.8px #1d1d1b;">LA TERCERA</div>
<div class="t" style="left:1627.0px;top:4493.4px;font:700 101.26800000000053px/1 'Liberation Sans','Noto Sans CJK SC',sans-serif;color:#fff;transform:scaleX(0.7244);transform-origin:0 0;">LT</div>
<div class="t" style="left:1787.2px;top:2728.9px;font:700 73px/1 'Liberation Serif','Noto Serif CJK SC',serif;color:#1d1d1b;transform:scaleX(0.9864);transform-origin:0 0;-webkit-text-stroke:1.5px #1d1d1b;">Iván Poduje,</div>
<div class="t" style="left:1791.0px;top:2800.4px;font:400 72px/1 'Liberation Serif','Noto Serif CJK SC',serif;color:#2a2a2a;transform:scaleX(1.0609);transform-origin:0 0;-webkit-text-stroke:1px #fff;">ministro de Vivienda y</div>
<div class="t" style="left:1789.0px;top:2871.1px;font:400 72px/1 'Liberation Serif','Noto Serif CJK SC',serif;color:#2a2a2a;transform:scaleX(1.0689);transform-origin:0 0;-webkit-text-stroke:1px #fff;">Urbanismo</div>
<div class="t" style="left:2267.7px;top:3075.6px;font:700 45px/1 'Liberation Sans','Noto Sans CJK SC',sans-serif;color:#1d1d1b;transform:scaleX(0.9701);transform-origin:0 0;-webkit-text-stroke:2.4px #1d1d1b;">IVÁN</div>
<div class="t" style="left:2267.7px;top:3133.6px;font:700 45px/1 'Liberation Sans','Noto Sans CJK SC',sans-serif;color:#1d1d1b;transform:scaleX(0.8970);transform-origin:0 0;-webkit-text-stroke:2.4px #1d1d1b;">PODUJE</div>
<div class="t" style="left:1789.3px;top:3272.7px;font:400 34px/1 'Liberation Sans','Noto Sans CJK SC',sans-serif;color:#222;transform:scaleX(0.9288);transform-origin:0 0;-webkit-text-stroke:0.8px #222;">Pensando en el ministro de Vivienda Iván Poduje:</div>
<div class="t" style="left:1789.3px;top:3311.7px;font:400 34px/1 'Liberation Sans','Noto Sans CJK SC',sans-serif;color:#222;transform:scaleX(0.9157);transform-origin:0 0;-webkit-text-stroke:0.8px #222;">¿Cuál es el principal desafío de su cartera?</div>
<div class="t" style="left:1789.3px;top:3364.9px;font:700 37.5px/1 'Liberation Sans','Noto Sans CJK SC',sans-serif;color:#1d1d1b;transform:scaleX(1.0205);transform-origin:0 0;-webkit-text-stroke:0.7px #1d1d1b;">47%</div>
<div class="t" style="left:1789.3px;top:3404.2px;font:400 29px/1 'Liberation Sans','Noto Sans CJK SC',sans-serif;color:#333;transform:scaleX(0.9740);transform-origin:0 0;-webkit-text-stroke:0.3px #333;">Mostrar avances concretos</div>
<div class="t" style="left:1789.3px;top:3435.1px;font:400 29px/1 'Liberation Sans','Noto Sans CJK SC',sans-serif;color:#333;transform:scaleX(0.9648);transform-origin:0 0;-webkit-text-stroke:0.3px #333;">en la reconstrucción de</div>
<div class="t" style="left:1789.3px;top:3466.0px;font:400 29px/1 'Liberation Sans','Noto Sans CJK SC',sans-serif;color:#333;transform:scaleX(0.9675);transform-origin:0 0;-webkit-text-stroke:0.3px #333;">las zonas afectadas</div>
<div class="t" style="left:1789.3px;top:3496.9px;font:400 29px/1 'Liberation Sans','Noto Sans CJK SC',sans-serif;color:#333;transform:scaleX(0.9672);transform-origin:0 0;-webkit-text-stroke:0.3px #333;">por los incendios</div>
<div class="t" style="left:2449.8px;top:3364.9px;font:700 37.5px/1 'Liberation Sans','Noto Sans CJK SC',sans-serif;color:#1d1d1b;transform:scaleX(1.0205);transform-origin:0 0;-webkit-text-stroke:0.7px #1d1d1b;">42%</div>
<div class="t" style="left:2228.6px;top:3404.2px;font:400 29px/1 'Liberation Sans','Noto Sans CJK SC',sans-serif;color:#333;transform:scaleX(0.9622);transform-origin:0 0;-webkit-text-stroke:0.3px #333;">Acelerar la construcción</div>
<div class="t" style="left:2263.9px;top:3435.1px;font:400 29px/1 'Liberation Sans','Noto Sans CJK SC',sans-serif;color:#333;transform:scaleX(0.9579);transform-origin:0 0;-webkit-text-stroke:0.3px #333;">de viviendas sociales</div>
<div class="t" style="left:2361.4px;top:3466.0px;font:400 29px/1 'Liberation Sans','Noto Sans CJK SC',sans-serif;color:#333;transform:scaleX(0.9654);transform-origin:0 0;-webkit-text-stroke:0.3px #333;">y desalojo de</div>
<div class="t" style="left:2343.7px;top:3496.9px;font:400 29px/1 'Liberation Sans','Noto Sans CJK SC',sans-serif;color:#333;transform:scaleX(1.0030);transform-origin:0 0;-webkit-text-stroke:0.3px #333;">campamentos</div>
<div class="t" style="left:2431.0px;top:3527.8px;font:400 29px/1 'Liberation Sans','Noto Sans CJK SC',sans-serif;color:#333;transform:scaleX(0.9701);transform-origin:0 0;-webkit-text-stroke:0.3px #333;">ilegales</div>
<div class="t" style="left:2464.3px;top:3797.2px;font:700 37.5px/1 'Liberation Sans','Noto Sans CJK SC',sans-serif;color:#1d1d1b;transform:scaleX(0.8507);transform-origin:0 0;-webkit-text-stroke:0.7px #1d1d1b;">11%</div>
<div class="t" style="left:2382.8px;top:3838.2px;font:400 29px/1 'Liberation Sans','Noto Sans CJK SC',sans-serif;color:#333;transform:scaleX(0.9378);transform-origin:0 0;-webkit-text-stroke:0.3px #333;">Reactivar el</div>
<div class="t" style="left:2416.0px;top:3869.5px;font:400 29px/1 'Liberation Sans','Noto Sans CJK SC',sans-serif;color:#333;transform:scaleX(0.9785);transform-origin:0 0;-webkit-text-stroke:0.3px #333;">mercado</div>
<div class="t" style="left:2381.2px;top:3900.8px;font:400 29px/1 'Liberation Sans','Noto Sans CJK SC',sans-serif;color:#333;transform:scaleX(0.9900);transform-origin:0 0;-webkit-text-stroke:0.3px #333;">inmobiliario</div>
<div class="t" style="left:1781.8px;top:3971.9px;font:400 34px/1 'Liberation Sans','Noto Sans CJK SC',sans-serif;color:#222;transform:scaleX(0.9305);transform-origin:0 0;-webkit-text-stroke:0.8px #222;">¿Usted considera que el ministro Poduje tiene las</div>
<div class="t" style="left:1781.8px;top:4011.3px;font:400 34px/1 'Liberation Sans','Noto Sans CJK SC',sans-serif;color:#222;transform:scaleX(0.9287);transform-origin:0 0;-webkit-text-stroke:0.8px #222;">capacidades necesarias para enfrentar los desafíos</div>
<div class="t" style="left:1781.8px;top:4050.7px;font:400 34px/1 'Liberation Sans','Noto Sans CJK SC',sans-serif;color:#222;transform:scaleX(0.9289);transform-origin:0 0;-webkit-text-stroke:0.8px #222;">de su cartera?</div>
<div class="t" style="left:1781.8px;top:4106.7px;font:700 37.5px/1 'Liberation Sans','Noto Sans CJK SC',sans-serif;color:#1d1d1b;transform:scaleX(1.0684);transform-origin:0 0;-webkit-text-stroke:0.7px #1d1d1b;">54%</div>
<div class="t" style="left:1781.8px;top:4147.5px;font:400 29px/1 'Liberation Sans','Noto Sans CJK SC',sans-serif;color:#333;transform:scaleX(0.8465);transform-origin:0 0;-webkit-text-stroke:0.3px #333;">Sí</div>
<div class="t" style="left:2439.0px;top:4106.7px;font:700 37.5px/1 'Liberation Sans','Noto Sans CJK SC',sans-serif;color:#1d1d1b;transform:scaleX(1.0724);transform-origin:0 0;-webkit-text-stroke:0.7px #1d1d1b;">38%</div>
<div class="t" style="left:2483.5px;top:4147.5px;font:400 29px/1 'Liberation Sans','Noto Sans CJK SC',sans-serif;color:#333;transform:scaleX(0.9709);transform-origin:0 0;-webkit-text-stroke:0.3px #333;">No</div>
<div class="t" style="left:2460.5px;top:4366.5px;font:700 37.5px/1 'Liberation Sans','Noto Sans CJK SC',sans-serif;color:#1d1d1b;transform:scaleX(1.0885);transform-origin:0 0;-webkit-text-stroke:0.7px #1d1d1b;">8%</div>
<div class="t" style="left:2396.2px;top:4408.5px;font:400 29px/1 'Liberation Sans','Noto Sans CJK SC',sans-serif;color:#333;transform:scaleX(0.9932);transform-origin:0 0;-webkit-text-stroke:0.3px #333;">No sabe /</div>
<div class="t" style="left:2349.0px;top:4439.1px;font:400 29px/1 'Liberation Sans','Noto Sans CJK SC',sans-serif;color:#333;transform:scaleX(0.9614);transform-origin:0 0;-webkit-text-stroke:0.3px #333;">No Responde</div>
<div class="t" style="left:1783.0px;top:4507.3px;font:400 28px/1 'Liberation Sans','Noto Sans CJK SC',sans-serif;color:#444;transform:scaleX(0.9943);transform-origin:0 0;">Total muestra: 975 casos</div>
<div class="t" style="left:1783.0px;top:4572.5px;font:400 27px/1 'Liberation Sans','Noto Sans CJK SC',sans-serif;color:#222;transform:scaleX(0.8012);transform-origin:0 0;-webkit-text-stroke:0.6px #222;">FUENTE:</div>
<div class="t" style="left:1884.7px;top:4572.5px;font:400 27px/1 'Liberation Sans','Noto Sans CJK SC',sans-serif;color:#333;transform:scaleX(1.0269);transform-origin:0 0;">Descifra</div>
<div class="t" style="left:2240.9px;top:4573.4px;font:700 26px/1 'Liberation Sans','Noto Sans CJK SC',sans-serif;color:#1d1d1b;transform:scaleX(0.9322);transform-origin:0 0;-webkit-text-stroke:0.8px #1d1d1b;">LA TERCERA</div>
<div class="t" style="left:2428.2px;top:4496.1px;font:700 100.78299999999965px/1 'Liberation Sans','Noto Sans CJK SC',sans-serif;color:#fff;transform:scaleX(0.7312);transform-origin:0 0;">LT</div>
<div class="t" style="left:2586.5px;top:2780.9px;font:700 73px/1 'Liberation Serif','Noto Serif CJK SC',serif;color:#1d1d1b;transform:scaleX(0.9821);transform-origin:0 0;-webkit-text-stroke:1.5px #1d1d1b;">Louis de Grange,</div>
<div class="t" style="left:2586.3px;top:2852.7px;font:400 72px/1 'Liberation Serif','Noto Serif CJK SC',serif;color:#2a2a2a;transform:scaleX(1.0795);transform-origin:0 0;-webkit-text-stroke:1px #fff;">ministro de Transportes</div>
<div class="t" style="left:3028.6px;top:3075.6px;font:700 45px/1 'Liberation Sans','Noto Sans CJK SC',sans-serif;color:#1d1d1b;transform:scaleX(0.9337);transform-origin:0 0;-webkit-text-stroke:2.4px #1d1d1b;">LOUIS</div>
<div class="t" style="left:3028.6px;top:3133.6px;font:700 45px/1 'Liberation Sans','Noto Sans CJK SC',sans-serif;color:#1d1d1b;transform:scaleX(0.8843);transform-origin:0 0;-webkit-text-stroke:2.4px #1d1d1b;">DE GRANGE</div>
<div class="t" style="left:2588.2px;top:3275.5px;font:400 34px/1 'Liberation Sans','Noto Sans CJK SC',sans-serif;color:#222;transform:scaleX(0.9315);transform-origin:0 0;-webkit-text-stroke:0.8px #222;">Pensando en el ministro de Transportes Louis de</div>
<div class="t" style="left:2588.2px;top:3315.7px;font:400 34px/1 'Liberation Sans','Noto Sans CJK SC',sans-serif;color:#222;transform:scaleX(0.9121);transform-origin:0 0;-webkit-text-stroke:0.8px #222;">Grange: ¿Cuál es el principal desafío de su cartera?</div>
<div class="t" style="left:2588.2px;top:3363.8px;font:700 37.5px/1 'Liberation Sans','Noto Sans CJK SC',sans-serif;color:#1d1d1b;transform:scaleX(1.0844);transform-origin:0 0;-webkit-text-stroke:0.7px #1d1d1b;">60%</div>
<div class="t" style="left:2588.2px;top:3403.2px;font:400 29px/1 'Liberation Sans','Noto Sans CJK SC',sans-serif;color:#333;transform:scaleX(0.9858);transform-origin:0 0;-webkit-text-stroke:0.3px #333;">Controlar el déficit</div>
<div class="t" style="left:2588.2px;top:3434.3px;font:400 29px/1 'Liberation Sans','Noto Sans CJK SC',sans-serif;color:#333;transform:scaleX(0.9885);transform-origin:0 0;-webkit-text-stroke:0.3px #333;">financiero</div>
<div class="t" style="left:2588.2px;top:3465.4px;font:400 29px/1 'Liberation Sans','Noto Sans CJK SC',sans-serif;color:#333;transform:scaleX(1.0089);transform-origin:0 0;-webkit-text-stroke:0.3px #333;">estructural</div>
<div class="t" style="left:2588.2px;top:3496.5px;font:400 29px/1 'Liberation Sans','Noto Sans CJK SC',sans-serif;color:#333;transform:scaleX(0.9722);transform-origin:0 0;-webkit-text-stroke:0.3px #333;">que tiene el</div>
<div class="t" style="left:2588.2px;top:3527.6px;font:400 29px/1 'Liberation Sans','Noto Sans CJK SC',sans-serif;color:#333;transform:scaleX(0.9714);transform-origin:0 0;-webkit-text-stroke:0.3px #333;">Transantiago</div>
<div class="t" style="left:3248.2px;top:3363.8px;font:700 37.5px/1 'Liberation Sans','Noto Sans CJK SC',sans-serif;color:#1d1d1b;transform:scaleX(1.0418);transform-origin:0 0;-webkit-text-stroke:0.7px #1d1d1b;">24%</div>
<div class="t" style="left:3115.9px;top:3403.2px;font:400 29px/1 'Liberation Sans','Noto Sans CJK SC',sans-serif;color:#333;transform:scaleX(0.9601);transform-origin:0 0;-webkit-text-stroke:0.3px #333;">Potenciar el área</div>
<div class="t" style="left:3169.5px;top:3434.3px;font:400 29px/1 'Liberation Sans','Noto Sans CJK SC',sans-serif;color:#333;transform:scaleX(0.9732);transform-origin:0 0;-webkit-text-stroke:0.3px #333;">digital de las</div>
<div class="t" style="left:3169.5px;top:3465.4px;font:400 29px/1 'Liberation Sans','Noto Sans CJK SC',sans-serif;color:#333;transform:scaleX(1.0467);transform-origin:0 0;-webkit-text-stroke:0.3px #333;">telecomuni-</div>
<div class="t" style="left:3214.0px;top:3496.5px;font:400 29px/1 'Liberation Sans','Noto Sans CJK SC',sans-serif;color:#333;transform:scaleX(0.9819);transform-origin:0 0;-webkit-text-stroke:0.3px #333;">caciones</div>
<div class="t" style="left:3253.6px;top:3691.7px;font:700 37.5px/1 'Liberation Sans','Noto Sans CJK SC',sans-serif;color:#1d1d1b;transform:scaleX(0.9699);transform-origin:0 0;-webkit-text-stroke:0.7px #1d1d1b;">16%</div>
<div class="t" style="left:3190.9px;top:3731.0px;font:400 29px/1 'Liberation Sans','Noto Sans CJK SC',sans-serif;color:#333;transform:scaleX(0.9892);transform-origin:0 0;-webkit-text-stroke:0.3px #333;">Flexibilizar</div>
<div class="t" style="left:3190.9px;top:3762.5px;font:400 29px/1 'Liberation Sans','Noto Sans CJK SC',sans-serif;color:#333;transform:scaleX(0.9888);transform-origin:0 0;-webkit-text-stroke:0.3px #333;">exigencias</div>
<div class="t" style="left:3145.4px;top:3794.0px;font:400 29px/1 'Liberation Sans','Noto Sans CJK SC',sans-serif;color:#333;transform:scaleX(0.9596);transform-origin:0 0;-webkit-text-stroke:0.3px #333;">para vehículos</div>
<div class="t" style="left:3132.0px;top:3825.5px;font:400 29px/1 'Liberation Sans','Noto Sans CJK SC',sans-serif;color:#333;transform:scaleX(0.9724);transform-origin:0 0;-webkit-text-stroke:0.3px #333;">de aplicaciones</div>
<div class="t" style="left:3080.0px;top:3857.0px;font:400 29px/1 'Liberation Sans','Noto Sans CJK SC',sans-serif;color:#333;transform:scaleX(0.9676);transform-origin:0 0;-webkit-text-stroke:0.3px #333;">como Uber y Cabify</div>
<div class="t" style="left:2588.2px;top:3923.7px;font:400 34px/1 'Liberation Sans','Noto Sans CJK SC',sans-serif;color:#222;transform:scaleX(0.9300);transform-origin:0 0;-webkit-text-stroke:0.8px #222;">¿Usted considera que el ministro de Grange</div>
<div class="t" style="left:2588.2px;top:3963.1px;font:400 34px/1 'Liberation Sans','Noto Sans CJK SC',sans-serif;color:#222;transform:scaleX(0.9340);transform-origin:0 0;-webkit-text-stroke:0.8px #222;">tiene las capacidades necesarias para enfrentar</div>
<div class="t" style="left:2588.2px;top:4002.5px;font:400 34px/1 'Liberation Sans','Noto Sans CJK SC',sans-serif;color:#222;transform:scaleX(0.9225);transform-origin:0 0;-webkit-text-stroke:0.8px #222;">los desafíos de su cartera?</div>
<div class="t" style="left:2588.2px;top:4055.8px;font:700 37.5px/1 'Liberation Sans','Noto Sans CJK SC',sans-serif;color:#1d1d1b;transform:scaleX(1.1057);transform-origin:0 0;-webkit-text-stroke:0.7px #1d1d1b;">46%</div>
<div class="t" style="left:2588.2px;top:4097.8px;font:400 29px/1 'Liberation Sans','Noto Sans CJK SC',sans-serif;color:#333;transform:scaleX(0.8684);transform-origin:0 0;-webkit-text-stroke:0.3px #333;">Sí</div>
<div class="t" style="left:3251.4px;top:4055.8px;font:700 37.5px/1 'Liberation Sans','Noto Sans CJK SC',sans-serif;color:#1d1d1b;transform:scaleX(1.0138);transform-origin:0 0;-webkit-text-stroke:0.7px #1d1d1b;">32%</div>
<div class="t" style="left:3292.7px;top:4097.8px;font:400 29px/1 'Liberation Sans','Noto Sans CJK SC',sans-serif;color:#333;transform:scaleX(0.9386);transform-origin:0 0;-webkit-text-stroke:0.3px #333;">No</div>
<div class="t" style="left:3252.5px;top:4365.4px;font:700 37.5px/1 'Liberation Sans','Noto Sans CJK SC',sans-serif;color:#1d1d1b;transform:scaleX(0.9992);transform-origin:0 0;-webkit-text-stroke:0.7px #1d1d1b;">22%</div>
<div class="t" style="left:3204.3px;top:4404.8px;font:400 29px/1 'Liberation Sans','Noto Sans CJK SC',sans-serif;color:#333;transform:scaleX(0.9924);transform-origin:0 0;-webkit-text-stroke:0.3px #333;">No sabe /</div>
<div class="t" style="left:3157.1px;top:4436.4px;font:400 29px/1 'Liberation Sans','Noto Sans CJK SC',sans-serif;color:#333;transform:scaleX(0.9608);transform-origin:0 0;-webkit-text-stroke:0.3px #333;">No Responde</div>
<div class="t" style="left:2587.0px;top:4504.1px;font:400 28px/1 'Liberation Sans','Noto Sans CJK SC',sans-serif;color:#444;transform:scaleX(0.9927);transform-origin:0 0;">Total muestra: 975 casos</div>
<div class="t" style="left:2587.0px;top:4572.5px;font:400 27px/1 'Liberation Sans','Noto Sans CJK SC',sans-serif;color:#222;transform:scaleX(0.8023);transform-origin:0 0;-webkit-text-stroke:0.6px #222;">FUENTE:</div>
<div class="t" style="left:2688.8px;top:4572.5px;font:400 27px/1 'Liberation Sans','Noto Sans CJK SC',sans-serif;color:#333;transform:scaleX(1.0285);transform-origin:0 0;">Descifra</div>
<div class="t" style="left:3046.2px;top:4573.4px;font:700 26px/1 'Liberation Sans','Noto Sans CJK SC',sans-serif;color:#1d1d1b;transform:scaleX(0.9328);transform-origin:0 0;-webkit-text-stroke:0.8px #1d1d1b;">LA TERCERA</div>
<div class="t" style="left:3233.3px;top:4496.1px;font:700 100.78299999999965px/1 'Liberation Sans','Noto Sans CJK SC',sans-serif;color:#fff;transform:scaleX(0.7239);transform-origin:0 0;">LT</div>
<div class="t" style="left:2585.7px;top:715.3px;font:700 73px/1 'Liberation Serif','Noto Serif CJK SC',serif;color:#1d1d1b;transform:scaleX(1.0213);transform-origin:0 0;-webkit-text-stroke:1.5px #1d1d1b;">Trinidad Steinert</div>
<div class="t" style="left:3139.0px;top:714.4px;font:400 74px/1 'Liberation Serif','Noto Serif CJK SC',serif;color:#333;">,</div>
<div class="t" style="left:2584.7px;top:786.5px;font:400 72px/1 'Liberation Serif','Noto Serif CJK SC',serif;color:#2a2a2a;transform:scaleX(1.0790);transform-origin:0 0;-webkit-text-stroke:1px #fff;">ministra de Seguridad</div>
<div class="t" style="left:2584.7px;top:856.4px;font:400 72px/1 'Liberation Serif','Noto Serif CJK SC',serif;color:#2a2a2a;transform:scaleX(1.0775);transform-origin:0 0;-webkit-text-stroke:1px #fff;">Pública</div>
<div class="t" style="left:3065.3px;top:1057.9px;font:700 45px/1 'Liberation Sans','Noto Sans CJK SC',sans-serif;color:#1d1d1b;transform:scaleX(0.9559);transform-origin:0 0;-webkit-text-stroke:2.4px #1d1d1b;">TRINIDAD</div>
<div class="t" style="left:3065.3px;top:1115.6px;font:700 45px/1 'Liberation Sans','Noto Sans CJK SC',sans-serif;color:#1d1d1b;transform:scaleX(0.9235);transform-origin:0 0;-webkit-text-stroke:2.4px #1d1d1b;">STEINERT</div>
<div class="t" style="left:2582.4px;top:1257.6px;font:400 34px/1 'Liberation Sans','Noto Sans CJK SC',sans-serif;color:#222;transform:scaleX(0.9274);transform-origin:0 0;-webkit-text-stroke:0.8px #222;">Pensando en la ministra de Seguridad Trinidad</div>
<div class="t" style="left:2582.4px;top:1296.8px;font:400 34px/1 'Liberation Sans','Noto Sans CJK SC',sans-serif;color:#222;transform:scaleX(0.9148);transform-origin:0 0;-webkit-text-stroke:0.8px #222;">Steinert: ¿Cuál es el principal desafío de su cartera?</div>
<div class="t" style="left:2582.4px;top:1351.3px;font:700 37.5px/1 'Liberation Sans','Noto Sans CJK SC',sans-serif;color:#1d1d1b;transform:scaleX(1.0724);transform-origin:0 0;-webkit-text-stroke:0.7px #1d1d1b;">44%</div>
<div class="t" style="left:2582.4px;top:1391.3px;font:400 29px/1 'Liberation Sans','Noto Sans CJK SC',sans-serif;color:#333;transform:scaleX(0.9417);transform-origin:0 0;-webkit-text-stroke:0.3px #333;">Reducir las</div>
<div class="t" style="left:2582.4px;top:1422.0px;font:400 29px/1 'Liberation Sans','Noto Sans CJK SC',sans-serif;color:#333;transform:scaleX(0.9561);transform-origin:0 0;-webkit-text-stroke:0.3px #333;">cifras de</div>
<div class="t" style="left:2582.4px;top:1452.7px;font:400 29px/1 'Liberation Sans','Noto Sans CJK SC',sans-serif;color:#333;transform:scaleX(0.9971);transform-origin:0 0;-webkit-text-stroke:0.3px #333;">homicidios</div>
<div class="t" style="left:3249.6px;top:1351.3px;font:700 37.5px/1 'Liberation Sans','Noto Sans CJK SC',sans-serif;color:#1d1d1b;transform:scaleX(0.9312);transform-origin:0 0;-webkit-text-stroke:0.7px #1d1d1b;">41%</div>
<div class="t" style="left:3130.5px;top:1391.3px;font:400 29px/1 'Liberation Sans','Noto Sans CJK SC',sans-serif;color:#333;transform:scaleX(0.9380);transform-origin:0 0;-webkit-text-stroke:0.3px #333;">Respaldar a las</div>
<div class="t" style="left:3102.4px;top:1421.8px;font:400 29px/1 'Liberation Sans','Noto Sans CJK SC',sans-serif;color:#333;transform:scaleX(0.9691);transform-origin:0 0;-webkit-text-stroke:0.3px #333;">policías y ampliar</div>
<div class="t" style="left:3138.4px;top:1452.3px;font:400 29px/1 'Liberation Sans','Noto Sans CJK SC',sans-serif;color:#333;transform:scaleX(0.9601);transform-origin:0 0;-webkit-text-stroke:0.3px #333;">la protección a</div>
<div class="t" style="left:3192.4px;top:1482.8px;font:400 29px/1 'Liberation Sans','Noto Sans CJK SC',sans-serif;color:#333;transform:scaleX(0.9616);transform-origin:0 0;-webkit-text-stroke:0.3px #333;">la legítima</div>
<div class="t" style="left:3217.8px;top:1513.3px;font:400 29px/1 'Liberation Sans','Noto Sans CJK SC',sans-serif;color:#333;transform:scaleX(0.9854);transform-origin:0 0;-webkit-text-stroke:0.3px #333;">defensa</div>
<div class="t" style="left:3250.7px;top:1673.3px;font:700 37.5px/1 'Liberation Sans','Noto Sans CJK SC',sans-serif;color:#1d1d1b;transform:scaleX(0.9166);transform-origin:0 0;-webkit-text-stroke:0.7px #1d1d1b;">15%</div>
<div class="t" style="left:3204.6px;top:1713.3px;font:400 29px/1 'Liberation Sans','Noto Sans CJK SC',sans-serif;color:#333;transform:scaleX(0.9766);transform-origin:0 0;-webkit-text-stroke:0.3px #333;">Construir</div>
<div class="t" style="left:3177.0px;top:1744.0px;font:400 29px/1 'Liberation Sans','Noto Sans CJK SC',sans-serif;color:#333;transform:scaleX(0.9608);transform-origin:0 0;-webkit-text-stroke:0.3px #333;">cárceles de</div>
<div class="t" style="left:3217.8px;top:1774.7px;font:400 29px/1 'Liberation Sans','Noto Sans CJK SC',sans-serif;color:#333;transform:scaleX(1.0018);transform-origin:0 0;-webkit-text-stroke:0.3px #333;">máxima</div>
<div class="t" style="left:3077.5px;top:1805.4px;font:400 29px/1 'Liberation Sans','Noto Sans CJK SC',sans-serif;color:#333;transform:scaleX(0.9623);transform-origin:0 0;-webkit-text-stroke:0.3px #333;">seguridad y aislar a</div>
<div class="t" style="left:3104.0px;top:1836.1px;font:400 29px/1 'Liberation Sans','Noto Sans CJK SC',sans-serif;color:#333;transform:scaleX(0.9687);transform-origin:0 0;-webkit-text-stroke:0.3px #333;">cabecillas narcos</div>
<div class="t" style="left:2577.0px;top:1897.8px;font:400 34px/1 'Liberation Sans','Noto Sans CJK SC',sans-serif;color:#222;transform:scaleX(0.9307);transform-origin:0 0;-webkit-text-stroke:0.8px #222;">¿Usted considera que la ministra Steinert tiene</div>
<div class="t" style="left:2577.0px;top:1938.0px;font:400 34px/1 'Liberation Sans','Noto Sans CJK SC',sans-serif;color:#222;transform:scaleX(0.9238);transform-origin:0 0;-webkit-text-stroke:0.8px #222;">las capacidades necesarias para enfrentar los</div>
<div class="t" style="left:2577.0px;top:1978.2px;font:400 34px/1 'Liberation Sans','Noto Sans CJK SC',sans-serif;color:#222;transform:scaleX(0.9242);transform-origin:0 0;-webkit-text-stroke:0.8px #222;">desafíos de su cartera?</div>
<div class="t" style="left:2577.0px;top:2038.9px;font:700 37.5px/1 'Liberation Sans','Noto Sans CJK SC',sans-serif;color:#1d1d1b;transform:scaleX(1.0245);transform-origin:0 0;-webkit-text-stroke:0.7px #1d1d1b;">42%</div>
<div class="t" style="left:2577.0px;top:2076.9px;font:400 29px/1 'Liberation Sans','Noto Sans CJK SC',sans-serif;color:#333;transform:scaleX(0.8757);transform-origin:0 0;-webkit-text-stroke:0.3px #333;">Sí</div>
<div class="t" style="left:3236.4px;top:2038.9px;font:700 37.5px/1 'Liberation Sans','Noto Sans CJK SC',sans-serif;color:#1d1d1b;transform:scaleX(1.0231);transform-origin:0 0;-webkit-text-stroke:0.7px #1d1d1b;">45%</div>
<div class="t" style="left:3280.3px;top:2076.9px;font:400 29px/1 'Liberation Sans','Noto Sans CJK SC',sans-serif;color:#333;transform:scaleX(0.8873);transform-origin:0 0;-webkit-text-stroke:0.3px #333;">No</div>
<div class="t" style="left:2577.0px;top:2351.3px;font:700 37.5px/1 'Liberation Sans','Noto Sans CJK SC',sans-serif;color:#1d1d1b;transform:scaleX(0.9539);transform-origin:0 0;-webkit-text-stroke:0.7px #1d1d1b;">13%</div>
<div class="t" style="left:2577.0px;top:2390.4px;font:400 29px/1 'Liberation Sans','Noto Sans CJK SC',sans-serif;color:#333;transform:scaleX(0.9731);transform-origin:0 0;-webkit-text-stroke:0.3px #333;">No sabe /</div>
<div class="t" style="left:2577.0px;top:2422.1px;font:400 29px/1 'Liberation Sans','Noto Sans CJK SC',sans-serif;color:#333;transform:scaleX(0.9558);transform-origin:0 0;-webkit-text-stroke:0.3px #333;">No Responde</div>
<div class="t" style="left:2582.4px;top:2489.1px;font:400 28px/1 'Liberation Sans','Noto Sans CJK SC',sans-serif;color:#444;transform:scaleX(0.9834);transform-origin:0 0;">Total muestra: 975 casos</div>
<div class="t" style="left:2582.4px;top:2555.1px;font:400 27px/1 'Liberation Sans','Noto Sans CJK SC',sans-serif;color:#222;transform:scaleX(0.7925);transform-origin:0 0;-webkit-text-stroke:0.6px #222;">FUENTE:</div>
<div class="t" style="left:2683.0px;top:2555.1px;font:400 27px/1 'Liberation Sans','Noto Sans CJK SC',sans-serif;color:#333;transform:scaleX(1.0158);transform-origin:0 0;">Descifra</div>
<div class="t" style="left:3038.8px;top:2556.0px;font:700 26px/1 'Liberation Sans','Noto Sans CJK SC',sans-serif;color:#1d1d1b;transform:scaleX(0.9316);transform-origin:0 0;-webkit-text-stroke:0.8px #1d1d1b;">LA TERCERA</div>
<div class="t" style="left:3228.1px;top:2479.8px;font:700 99.61899999999982px/1 'Liberation Sans','Noto Sans CJK SC',sans-serif;color:#fff;transform:scaleX(0.7241);transform-origin:0 0;">LT</div>
<div class="t" style="left:3295.0px;top:4825.6px;font:400 17px/1 'Liberation Sans','Noto Sans CJK SC',sans-serif;color:#2b2b2b;letter-spacing:0.139px;">SMART ZOOM</div>
<div class="t" style="left:3440.5px;top:4826.1px;font:700 17px/1 'Liberation Sans','Noto Sans CJK SC',sans-serif;color:#fff;">1</div>

</body></html>
